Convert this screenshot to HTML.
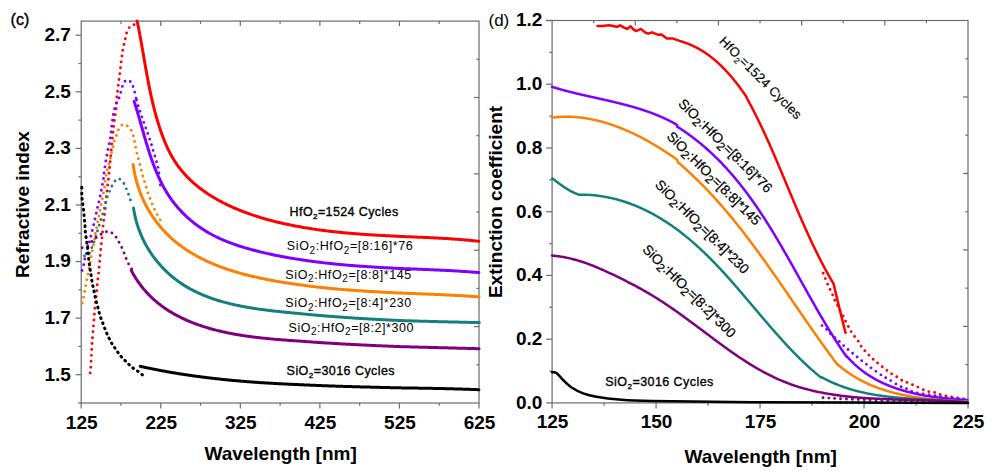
<!DOCTYPE html>
<html><head><meta charset="utf-8"><style>
html,body{margin:0;padding:0;background:#fff;width:1000px;height:473px;overflow:hidden}
svg{display:block}
</style></head><body>
<svg width="1000" height="473" viewBox="0 0 1000 473">
<rect width="1000" height="473" fill="#fff"/>
<rect x="81.2" y="21.1" width="397.8" height="381.9" fill="none" stroke="#6b6b6b" stroke-width="1.2"/>
<rect x="552.1" y="20.5" width="415.9" height="382.4" fill="none" stroke="#6b6b6b" stroke-width="1.2"/>
<line x1="81.20" y1="403.00" x2="81.20" y2="408.60" stroke="#6b6b6b" stroke-width="1.2"/>
<line x1="120.98" y1="403.00" x2="120.98" y2="405.80" stroke="#6b6b6b" stroke-width="1.2"/>
<line x1="120.98" y1="21.10" x2="120.98" y2="23.90" stroke="#6b6b6b" stroke-width="1.2"/>
<line x1="160.76" y1="403.00" x2="160.76" y2="408.60" stroke="#6b6b6b" stroke-width="1.2"/>
<line x1="160.76" y1="21.10" x2="160.76" y2="26.10" stroke="#6b6b6b" stroke-width="1.2"/>
<line x1="200.54" y1="403.00" x2="200.54" y2="405.80" stroke="#6b6b6b" stroke-width="1.2"/>
<line x1="200.54" y1="21.10" x2="200.54" y2="23.90" stroke="#6b6b6b" stroke-width="1.2"/>
<line x1="240.32" y1="403.00" x2="240.32" y2="408.60" stroke="#6b6b6b" stroke-width="1.2"/>
<line x1="240.32" y1="21.10" x2="240.32" y2="26.10" stroke="#6b6b6b" stroke-width="1.2"/>
<line x1="280.10" y1="403.00" x2="280.10" y2="405.80" stroke="#6b6b6b" stroke-width="1.2"/>
<line x1="280.10" y1="21.10" x2="280.10" y2="23.90" stroke="#6b6b6b" stroke-width="1.2"/>
<line x1="319.88" y1="403.00" x2="319.88" y2="408.60" stroke="#6b6b6b" stroke-width="1.2"/>
<line x1="319.88" y1="21.10" x2="319.88" y2="26.10" stroke="#6b6b6b" stroke-width="1.2"/>
<line x1="359.66" y1="403.00" x2="359.66" y2="405.80" stroke="#6b6b6b" stroke-width="1.2"/>
<line x1="359.66" y1="21.10" x2="359.66" y2="23.90" stroke="#6b6b6b" stroke-width="1.2"/>
<line x1="399.44" y1="403.00" x2="399.44" y2="408.60" stroke="#6b6b6b" stroke-width="1.2"/>
<line x1="399.44" y1="21.10" x2="399.44" y2="26.10" stroke="#6b6b6b" stroke-width="1.2"/>
<line x1="439.22" y1="403.00" x2="439.22" y2="405.80" stroke="#6b6b6b" stroke-width="1.2"/>
<line x1="439.22" y1="21.10" x2="439.22" y2="23.90" stroke="#6b6b6b" stroke-width="1.2"/>
<line x1="479.00" y1="403.00" x2="479.00" y2="408.60" stroke="#6b6b6b" stroke-width="1.2"/>
<line x1="78.20" y1="403.00" x2="81.20" y2="403.00" stroke="#6b6b6b" stroke-width="1.2"/>
<line x1="75.60" y1="374.71" x2="81.20" y2="374.71" stroke="#6b6b6b" stroke-width="1.2"/>
<line x1="78.40" y1="346.42" x2="81.20" y2="346.42" stroke="#6b6b6b" stroke-width="1.2"/>
<line x1="75.60" y1="318.13" x2="81.20" y2="318.13" stroke="#6b6b6b" stroke-width="1.2"/>
<line x1="78.40" y1="289.84" x2="81.20" y2="289.84" stroke="#6b6b6b" stroke-width="1.2"/>
<line x1="75.60" y1="261.56" x2="81.20" y2="261.56" stroke="#6b6b6b" stroke-width="1.2"/>
<line x1="78.40" y1="233.27" x2="81.20" y2="233.27" stroke="#6b6b6b" stroke-width="1.2"/>
<line x1="75.60" y1="204.98" x2="81.20" y2="204.98" stroke="#6b6b6b" stroke-width="1.2"/>
<line x1="78.40" y1="176.69" x2="81.20" y2="176.69" stroke="#6b6b6b" stroke-width="1.2"/>
<line x1="75.60" y1="148.40" x2="81.20" y2="148.40" stroke="#6b6b6b" stroke-width="1.2"/>
<line x1="78.40" y1="120.11" x2="81.20" y2="120.11" stroke="#6b6b6b" stroke-width="1.2"/>
<line x1="75.60" y1="91.82" x2="81.20" y2="91.82" stroke="#6b6b6b" stroke-width="1.2"/>
<line x1="78.40" y1="63.53" x2="81.20" y2="63.53" stroke="#6b6b6b" stroke-width="1.2"/>
<line x1="75.60" y1="35.24" x2="81.20" y2="35.24" stroke="#6b6b6b" stroke-width="1.2"/>
<line x1="552.10" y1="402.90" x2="552.10" y2="408.50" stroke="#6b6b6b" stroke-width="1.2"/>
<line x1="604.09" y1="402.90" x2="604.09" y2="405.70" stroke="#6b6b6b" stroke-width="1.2"/>
<line x1="656.08" y1="402.90" x2="656.08" y2="408.50" stroke="#6b6b6b" stroke-width="1.2"/>
<line x1="708.06" y1="402.90" x2="708.06" y2="405.70" stroke="#6b6b6b" stroke-width="1.2"/>
<line x1="760.05" y1="402.90" x2="760.05" y2="408.50" stroke="#6b6b6b" stroke-width="1.2"/>
<line x1="812.04" y1="402.90" x2="812.04" y2="405.70" stroke="#6b6b6b" stroke-width="1.2"/>
<line x1="864.03" y1="402.90" x2="864.03" y2="408.50" stroke="#6b6b6b" stroke-width="1.2"/>
<line x1="916.01" y1="402.90" x2="916.01" y2="405.70" stroke="#6b6b6b" stroke-width="1.2"/>
<line x1="968.00" y1="402.90" x2="968.00" y2="408.50" stroke="#6b6b6b" stroke-width="1.2"/>
<line x1="593.69" y1="20.50" x2="593.69" y2="23.30" stroke="#6b6b6b" stroke-width="1.2"/>
<line x1="635.28" y1="20.50" x2="635.28" y2="25.50" stroke="#6b6b6b" stroke-width="1.2"/>
<line x1="676.87" y1="20.50" x2="676.87" y2="23.30" stroke="#6b6b6b" stroke-width="1.2"/>
<line x1="718.46" y1="20.50" x2="718.46" y2="25.50" stroke="#6b6b6b" stroke-width="1.2"/>
<line x1="760.05" y1="20.50" x2="760.05" y2="23.30" stroke="#6b6b6b" stroke-width="1.2"/>
<line x1="801.64" y1="20.50" x2="801.64" y2="25.50" stroke="#6b6b6b" stroke-width="1.2"/>
<line x1="843.23" y1="20.50" x2="843.23" y2="23.30" stroke="#6b6b6b" stroke-width="1.2"/>
<line x1="884.82" y1="20.50" x2="884.82" y2="25.50" stroke="#6b6b6b" stroke-width="1.2"/>
<line x1="926.41" y1="20.50" x2="926.41" y2="23.30" stroke="#6b6b6b" stroke-width="1.2"/>
<line x1="546.10" y1="20.50" x2="552.10" y2="20.50" stroke="#6b6b6b" stroke-width="1.2"/>
<line x1="546.10" y1="402.90" x2="552.10" y2="402.90" stroke="#6b6b6b" stroke-width="1.2"/>
<line x1="549.30" y1="371.03" x2="552.10" y2="371.03" stroke="#6b6b6b" stroke-width="1.2"/>
<line x1="546.10" y1="339.17" x2="552.10" y2="339.17" stroke="#6b6b6b" stroke-width="1.2"/>
<line x1="549.30" y1="307.30" x2="552.10" y2="307.30" stroke="#6b6b6b" stroke-width="1.2"/>
<line x1="546.10" y1="275.43" x2="552.10" y2="275.43" stroke="#6b6b6b" stroke-width="1.2"/>
<line x1="549.30" y1="243.57" x2="552.10" y2="243.57" stroke="#6b6b6b" stroke-width="1.2"/>
<line x1="546.10" y1="211.70" x2="552.10" y2="211.70" stroke="#6b6b6b" stroke-width="1.2"/>
<line x1="549.30" y1="179.83" x2="552.10" y2="179.83" stroke="#6b6b6b" stroke-width="1.2"/>
<line x1="546.10" y1="147.97" x2="552.10" y2="147.97" stroke="#6b6b6b" stroke-width="1.2"/>
<line x1="549.30" y1="116.10" x2="552.10" y2="116.10" stroke="#6b6b6b" stroke-width="1.2"/>
<line x1="546.10" y1="84.23" x2="552.10" y2="84.23" stroke="#6b6b6b" stroke-width="1.2"/>
<line x1="549.30" y1="52.37" x2="552.10" y2="52.37" stroke="#6b6b6b" stroke-width="1.2"/>
<line x1="546.10" y1="20.50" x2="552.10" y2="20.50" stroke="#6b6b6b" stroke-width="1.2"/>
<line x1="476.40" y1="59.29" x2="479.00" y2="59.29" stroke="#6b6b6b" stroke-width="1.2"/>
<line x1="474.00" y1="97.48" x2="479.00" y2="97.48" stroke="#6b6b6b" stroke-width="1.2"/>
<line x1="476.40" y1="135.67" x2="479.00" y2="135.67" stroke="#6b6b6b" stroke-width="1.2"/>
<line x1="474.00" y1="173.86" x2="479.00" y2="173.86" stroke="#6b6b6b" stroke-width="1.2"/>
<line x1="476.40" y1="212.05" x2="479.00" y2="212.05" stroke="#6b6b6b" stroke-width="1.2"/>
<line x1="474.00" y1="250.24" x2="479.00" y2="250.24" stroke="#6b6b6b" stroke-width="1.2"/>
<line x1="476.40" y1="288.43" x2="479.00" y2="288.43" stroke="#6b6b6b" stroke-width="1.2"/>
<line x1="474.00" y1="326.62" x2="479.00" y2="326.62" stroke="#6b6b6b" stroke-width="1.2"/>
<line x1="476.40" y1="364.81" x2="479.00" y2="364.81" stroke="#6b6b6b" stroke-width="1.2"/>
<line x1="965.40" y1="58.74" x2="968.00" y2="58.74" stroke="#6b6b6b" stroke-width="1.2"/>
<line x1="963.00" y1="96.98" x2="968.00" y2="96.98" stroke="#6b6b6b" stroke-width="1.2"/>
<line x1="965.40" y1="135.22" x2="968.00" y2="135.22" stroke="#6b6b6b" stroke-width="1.2"/>
<line x1="963.00" y1="173.46" x2="968.00" y2="173.46" stroke="#6b6b6b" stroke-width="1.2"/>
<line x1="965.40" y1="211.70" x2="968.00" y2="211.70" stroke="#6b6b6b" stroke-width="1.2"/>
<line x1="963.00" y1="249.94" x2="968.00" y2="249.94" stroke="#6b6b6b" stroke-width="1.2"/>
<line x1="965.40" y1="288.18" x2="968.00" y2="288.18" stroke="#6b6b6b" stroke-width="1.2"/>
<line x1="963.00" y1="326.42" x2="968.00" y2="326.42" stroke="#6b6b6b" stroke-width="1.2"/>
<line x1="965.40" y1="364.66" x2="968.00" y2="364.66" stroke="#6b6b6b" stroke-width="1.2"/>
<text x="81.70" y="428.60" font-family="Liberation Sans, sans-serif" font-size="19" font-weight="bold" text-anchor="middle" fill="#000" >125</text>
<text x="161.26" y="428.60" font-family="Liberation Sans, sans-serif" font-size="19" font-weight="bold" text-anchor="middle" fill="#000" >225</text>
<text x="240.82" y="428.60" font-family="Liberation Sans, sans-serif" font-size="19" font-weight="bold" text-anchor="middle" fill="#000" >325</text>
<text x="320.38" y="428.60" font-family="Liberation Sans, sans-serif" font-size="19" font-weight="bold" text-anchor="middle" fill="#000" >425</text>
<text x="399.94" y="428.60" font-family="Liberation Sans, sans-serif" font-size="19" font-weight="bold" text-anchor="middle" fill="#000" >525</text>
<text x="479.50" y="428.60" font-family="Liberation Sans, sans-serif" font-size="19" font-weight="bold" text-anchor="middle" fill="#000" >625</text>
<text x="70.90" y="380.51" font-family="Liberation Sans, sans-serif" font-size="19" font-weight="bold" text-anchor="end" fill="#000" >1.5</text>
<text x="70.90" y="323.93" font-family="Liberation Sans, sans-serif" font-size="19" font-weight="bold" text-anchor="end" fill="#000" >1.7</text>
<text x="70.90" y="267.36" font-family="Liberation Sans, sans-serif" font-size="19" font-weight="bold" text-anchor="end" fill="#000" >1.9</text>
<text x="70.90" y="210.78" font-family="Liberation Sans, sans-serif" font-size="19" font-weight="bold" text-anchor="end" fill="#000" >2.1</text>
<text x="70.90" y="154.20" font-family="Liberation Sans, sans-serif" font-size="19" font-weight="bold" text-anchor="end" fill="#000" >2.3</text>
<text x="70.90" y="97.62" font-family="Liberation Sans, sans-serif" font-size="19" font-weight="bold" text-anchor="end" fill="#000" >2.5</text>
<text x="70.90" y="41.04" font-family="Liberation Sans, sans-serif" font-size="19" font-weight="bold" text-anchor="end" fill="#000" >2.7</text>
<text x="552.60" y="428.30" font-family="Liberation Sans, sans-serif" font-size="19" font-weight="bold" text-anchor="middle" fill="#000" >125</text>
<text x="656.58" y="428.30" font-family="Liberation Sans, sans-serif" font-size="19" font-weight="bold" text-anchor="middle" fill="#000" >150</text>
<text x="760.55" y="428.30" font-family="Liberation Sans, sans-serif" font-size="19" font-weight="bold" text-anchor="middle" fill="#000" >175</text>
<text x="864.53" y="428.30" font-family="Liberation Sans, sans-serif" font-size="19" font-weight="bold" text-anchor="middle" fill="#000" >200</text>
<text x="968.50" y="428.30" font-family="Liberation Sans, sans-serif" font-size="19" font-weight="bold" text-anchor="middle" fill="#000" >225</text>
<text x="542.30" y="408.70" font-family="Liberation Sans, sans-serif" font-size="19" font-weight="bold" text-anchor="end" fill="#000" >0.0</text>
<text x="542.30" y="344.97" font-family="Liberation Sans, sans-serif" font-size="19" font-weight="bold" text-anchor="end" fill="#000" >0.2</text>
<text x="542.30" y="281.23" font-family="Liberation Sans, sans-serif" font-size="19" font-weight="bold" text-anchor="end" fill="#000" >0.4</text>
<text x="542.30" y="217.50" font-family="Liberation Sans, sans-serif" font-size="19" font-weight="bold" text-anchor="end" fill="#000" >0.6</text>
<text x="542.30" y="153.77" font-family="Liberation Sans, sans-serif" font-size="19" font-weight="bold" text-anchor="end" fill="#000" >0.8</text>
<text x="542.30" y="90.03" font-family="Liberation Sans, sans-serif" font-size="19" font-weight="bold" text-anchor="end" fill="#000" >1.0</text>
<text x="542.30" y="26.30" font-family="Liberation Sans, sans-serif" font-size="19" font-weight="bold" text-anchor="end" fill="#000" >1.2</text>
<text x="280.60" y="459.70" font-family="Liberation Sans, sans-serif" font-size="19" font-weight="bold" text-anchor="middle" fill="#000" >Wavelength [nm]</text>
<text x="760.70" y="462.70" font-family="Liberation Sans, sans-serif" font-size="19" font-weight="bold" text-anchor="middle" fill="#000" >Wavelength [nm]</text>
<text transform="translate(29.1,204.5) rotate(-90)" font-family="Liberation Sans, sans-serif" font-size="19" font-weight="bold" text-anchor="middle">Refractive index</text>
<text transform="translate(501.8,202) rotate(-90)" font-family="Liberation Sans, sans-serif" font-size="19" font-weight="bold" text-anchor="middle">Extinction coefficient</text>
<text x="10.60" y="25.20" font-family="Liberation Sans, sans-serif" font-size="16" font-weight="normal" text-anchor="start" fill="#000" stroke="#000" stroke-width="0.4">(c)</text>
<text x="488.50" y="25.50" font-family="Liberation Sans, sans-serif" font-size="17" font-weight="normal" text-anchor="start" fill="#000" >(d)</text>

<path d="M90.10,373.00 C90.22,371.98 90.58,369.87 90.80,366.90 C91.02,363.93 91.20,359.10 91.40,355.20 C91.60,351.30 91.82,346.45 92.00,343.50 C92.18,340.55 92.25,340.47 92.50,337.50 C92.75,334.53 93.18,329.62 93.50,325.70 C93.82,321.78 94.08,317.90 94.40,314.00 C94.72,310.10 95.10,305.22 95.40,302.30 C95.70,299.38 95.90,299.43 96.20,296.50 C96.50,293.57 96.80,288.63 97.20,284.70 C97.60,280.77 98.18,276.83 98.60,272.90 C99.02,268.97 99.35,264.92 99.70,261.10 C100.05,257.28 100.42,252.87 100.70,250.00 C100.98,247.13 101.10,246.88 101.40,243.90 C101.70,240.92 102.12,236.03 102.50,232.10 C102.88,228.17 103.35,223.32 103.70,220.30 C104.05,217.28 104.23,217.03 104.60,214.00 C104.97,210.97 105.48,206.05 105.90,202.10 C106.32,198.15 106.67,194.23 107.10,190.30 C107.53,186.37 108.08,182.32 108.50,178.50 C108.92,174.68 109.23,171.17 109.60,167.40 C109.97,163.63 110.33,159.78 110.70,155.90 C111.07,152.02 111.42,148.05 111.80,144.10 C112.18,140.15 112.57,136.15 113.00,132.20 C113.43,128.25 113.88,124.40 114.40,120.40 C114.92,116.40 115.68,112.10 116.10,108.20 C116.52,104.30 116.53,100.85 116.90,97.00 C117.27,93.15 117.82,89.00 118.30,85.10 C118.78,81.20 119.32,77.52 119.80,73.60 C120.28,69.68 120.70,65.52 121.20,61.60 C121.70,57.68 122.33,53.00 122.80,50.10 C123.27,47.20 123.57,46.17 124.00,44.20 C124.43,42.23 124.95,40.22 125.40,38.30 C125.85,36.38 126.00,34.57 126.70,32.70 C127.40,30.83 128.42,28.43 129.60,27.10 C130.78,25.77 132.53,24.63 133.80,24.70 C135.07,24.77 136.63,27.03 137.20,27.50" fill="none" stroke="#ff0000" stroke-width="2.9" stroke-linecap="round" stroke-dasharray="0 5.9"/>
<path d="M82.10,270.50 C82.37,269.55 83.23,266.80 83.70,264.80 C84.17,262.80 84.43,260.50 84.90,258.50 C85.37,256.50 85.75,255.58 86.50,252.80 C87.25,250.02 88.43,245.53 89.40,241.80 C90.37,238.07 91.35,234.25 92.30,230.40 C93.25,226.55 94.22,222.58 95.10,218.70 C95.98,214.82 96.95,209.98 97.60,207.10 C98.25,204.22 98.37,204.27 99.00,201.40 C99.63,198.53 100.63,193.80 101.40,189.90 C102.17,186.00 103.13,180.98 103.60,178.00 C104.07,175.02 103.82,174.88 104.20,172.00 C104.58,169.12 105.25,164.52 105.90,160.70 C106.55,156.88 107.33,153.00 108.10,149.10 C108.87,145.20 109.88,141.23 110.50,137.30 C111.12,133.37 111.30,129.38 111.80,125.50 C112.30,121.62 112.80,117.58 113.50,114.00 C114.20,110.42 115.00,106.83 116.00,104.00 C117.00,101.17 118.37,100.15 119.50,97.00 C120.63,93.85 121.62,87.92 122.80,85.10 C123.98,82.28 125.18,80.52 126.60,80.10 C128.02,79.68 130.18,81.40 131.30,82.60 C132.42,83.80 132.68,85.55 133.30,87.30 C133.92,89.05 134.47,90.98 135.00,93.10 C135.53,95.22 136.25,98.85 136.50,100.00" fill="none" stroke="#7f00ff" stroke-width="2.9" stroke-linecap="round" stroke-dasharray="0 5.9"/>
<path d="M136.50,100.00 C137.00,101.67 138.42,106.67 139.50,110.00 C140.58,113.33 141.83,116.67 143.00,120.00 C144.17,123.33 145.33,126.67 146.50,130.00 C147.67,133.33 148.92,136.67 150.00,140.00 C151.08,143.33 152.00,146.67 153.00,150.00 C154.00,153.33 155.08,156.67 156.00,160.00 C156.92,163.33 157.68,165.00 158.50,170.00 C159.32,175.00 160.50,186.67 160.90,190.00" fill="none" stroke="#7f00ff" stroke-width="2.9" stroke-linecap="round" stroke-dasharray="0 5.9"/>
<path d="M82.20,303.00 C82.42,302.07 83.08,299.33 83.50,297.40 C83.92,295.47 84.33,293.35 84.70,291.40 C85.07,289.45 85.32,287.78 85.70,285.70 C86.08,283.62 86.62,280.85 87.00,278.90 C87.38,276.95 87.65,275.78 88.00,274.00 C88.35,272.22 88.73,270.12 89.10,268.20 C89.47,266.28 89.85,264.43 90.20,262.50 C90.55,260.57 90.85,258.57 91.20,256.60 C91.55,254.63 91.95,252.63 92.30,250.70 C92.65,248.77 92.92,246.95 93.30,245.00 C93.68,243.05 94.25,240.95 94.60,239.00 C94.95,237.05 95.05,235.23 95.40,233.30 C95.75,231.37 96.30,229.33 96.70,227.40 C97.10,225.47 97.43,223.63 97.80,221.70 C98.17,219.77 98.53,217.73 98.90,215.80 C99.27,213.87 99.62,212.03 100.00,210.10 C100.38,208.17 100.78,206.20 101.20,204.20 C101.62,202.20 102.12,200.02 102.50,198.10 C102.88,196.18 103.15,194.60 103.50,192.70 C103.85,190.80 104.32,188.68 104.60,186.70 C104.88,184.72 104.90,182.97 105.20,180.80 C105.50,178.63 106.00,175.73 106.40,173.70 C106.80,171.67 107.12,170.43 107.60,168.60 C108.08,166.77 108.82,164.53 109.30,162.70 C109.78,160.87 110.08,159.43 110.50,157.60 C110.92,155.77 111.35,153.67 111.80,151.70 C112.25,149.73 112.77,147.63 113.20,145.80 C113.63,143.97 113.83,142.48 114.40,140.70 C114.97,138.92 115.83,137.08 116.60,135.10 C117.37,133.12 117.97,130.55 119.00,128.80 C120.03,127.05 121.32,125.02 122.80,124.60 C124.28,124.18 126.43,125.25 127.90,126.30 C129.37,127.35 130.67,129.20 131.60,130.90 C132.53,132.60 132.98,134.58 133.50,136.50 C134.02,138.42 134.30,140.43 134.70,142.40 C135.10,144.37 135.48,146.33 135.90,148.30 C136.32,150.27 136.75,152.28 137.20,154.20 C137.65,156.12 138.12,157.90 138.60,159.80 C139.08,161.70 139.62,163.72 140.10,165.60 C140.58,167.48 141.00,169.18 141.50,171.10 C142.00,173.02 142.55,175.17 143.10,177.10 C143.65,179.03 144.23,180.92 144.80,182.70 C145.37,184.48 145.93,185.97 146.50,187.80 C147.07,189.63 147.57,191.82 148.20,193.70 C148.83,195.58 149.58,197.27 150.30,199.10 C151.02,200.93 151.72,202.78 152.50,204.70 C153.28,206.62 154.08,208.72 155.00,210.60 C155.92,212.48 157.02,214.30 158.00,216.00 C158.98,217.70 160.42,220.00 160.90,220.80" fill="none" stroke="#ff7f00" stroke-width="2.9" stroke-linecap="round" stroke-dasharray="0 5.9"/>
<path d="M84.50,256.00 C85.27,255.60 87.98,254.78 89.10,253.60 C90.22,252.42 90.45,250.62 91.20,248.90 C91.95,247.18 92.90,245.15 93.60,243.30 C94.30,241.45 94.83,239.60 95.40,237.80 C95.97,236.00 96.43,234.38 97.00,232.50 C97.57,230.62 98.22,228.43 98.80,226.50 C99.38,224.57 99.95,222.72 100.50,220.90 C101.05,219.08 101.53,217.40 102.10,215.60 C102.67,213.80 103.40,211.92 103.90,210.10 C104.40,208.28 104.63,206.60 105.10,204.70 C105.57,202.80 106.07,200.65 106.70,198.70 C107.33,196.75 108.18,194.82 108.90,193.00 C109.62,191.18 110.17,189.52 111.00,187.80 C111.83,186.08 112.77,184.25 113.90,182.70 C115.03,181.15 116.32,178.65 117.80,178.50 C119.28,178.35 121.53,180.40 122.80,181.80 C124.07,183.20 124.60,185.20 125.40,186.90 C126.20,188.60 126.90,190.25 127.60,192.00 C128.30,193.75 128.95,195.45 129.60,197.40 C130.25,199.35 131.18,202.65 131.50,203.70" fill="none" stroke="#137f7f" stroke-width="2.9" stroke-linecap="round" stroke-dasharray="0 5.9"/>
<path d="M82.20,247.80 C83.08,247.50 85.95,247.00 87.50,246.00 C89.05,245.00 90.18,243.08 91.50,241.80 C92.82,240.52 94.03,239.42 95.40,238.30 C96.77,237.18 98.28,236.03 99.70,235.10 C101.12,234.17 102.32,233.28 103.90,232.70 C105.48,232.12 107.43,231.20 109.20,231.60 C110.97,232.00 113.10,233.72 114.50,235.10 C115.90,236.48 116.63,238.32 117.60,239.90 C118.57,241.48 119.42,242.93 120.30,244.60 C121.18,246.27 122.12,248.08 122.90,249.90 C123.68,251.72 124.28,253.63 125.00,255.50 C125.72,257.37 126.40,259.32 127.20,261.10 C128.00,262.88 128.88,264.63 129.80,266.20 C130.72,267.77 132.22,269.78 132.70,270.50" fill="none" stroke="#7f007f" stroke-width="2.9" stroke-linecap="round" stroke-dasharray="0 5.9"/>
<path d="M142.40,374.90 C141.67,374.32 139.47,372.47 138.00,371.40 C136.53,370.33 135.07,369.62 133.60,368.50 C132.13,367.38 130.63,366.03 129.20,364.70 C127.77,363.37 126.40,361.92 125.00,360.50 C123.60,359.08 122.07,357.67 120.80,356.20 C119.53,354.73 118.45,353.17 117.40,351.70 C116.35,350.23 115.47,348.85 114.50,347.40 C113.53,345.95 112.45,344.42 111.60,343.00 C110.75,341.58 110.15,340.40 109.40,338.90 C108.65,337.40 107.88,335.77 107.10,334.00 C106.32,332.23 105.45,330.18 104.70,328.30 C103.95,326.42 103.30,324.57 102.60,322.70 C101.90,320.83 101.12,318.95 100.50,317.10 C99.88,315.25 99.38,313.40 98.90,311.60 C98.42,309.80 98.08,308.15 97.60,306.30 C97.12,304.45 96.48,302.40 96.00,300.50 C95.52,298.60 95.12,296.88 94.70,294.90 C94.28,292.92 93.90,290.48 93.50,288.60 C93.10,286.72 92.65,285.50 92.30,283.60 C91.95,281.70 91.70,279.15 91.40,277.20 C91.10,275.25 90.80,273.78 90.50,271.90 C90.20,270.02 89.88,267.88 89.60,265.90 C89.32,263.92 89.05,262.08 88.80,260.00 C88.55,257.92 88.32,255.43 88.10,253.40 C87.88,251.37 87.73,249.70 87.50,247.80 C87.27,245.90 86.97,243.93 86.70,242.00 C86.43,240.07 86.15,238.13 85.90,236.20 C85.65,234.27 85.37,232.33 85.20,230.40 C85.03,228.47 85.05,226.58 84.90,224.60 C84.75,222.62 84.48,220.50 84.30,218.50 C84.12,216.50 84.00,214.55 83.80,212.60 C83.60,210.65 83.33,208.75 83.10,206.80 C82.87,204.85 82.62,202.87 82.40,200.90 C82.18,198.93 81.90,197.48 81.80,195.00 C81.70,192.52 81.80,187.50 81.80,186.00" fill="none" stroke="#000000" stroke-width="3.0" stroke-linecap="round" stroke-dasharray="0.8 4.7"/>
<path d="M137.15,21.07 L137.39,22.24 L137.63,23.40 L137.86,24.57 L138.10,25.73 L138.33,26.90 L138.56,28.06 L138.79,29.22 L139.01,30.39 L139.24,31.55 L139.46,32.71 L139.68,33.88 L139.89,35.04 L140.11,36.20 L140.32,37.36 L140.53,38.52 L140.75,39.69 L140.95,40.85 L141.16,42.01 L141.37,43.17 L141.58,44.33 L141.78,45.49 L141.98,46.65 L142.19,47.81 L142.39,48.97 L142.59,50.13 L142.79,51.29 L142.99,52.44 L143.19,53.60 L143.39,54.76 L143.59,55.92 L143.79,57.08 L143.99,58.23 L144.19,59.39 L144.40,60.55 L144.60,61.70 L144.80,62.86 L145.00,64.02 L145.20,65.17 L145.40,66.33 L145.61,67.48 L145.81,68.64 L146.01,69.79 L146.22,70.95 L146.43,72.10 L146.64,73.25 L146.85,74.41 L147.06,75.56 L147.27,76.71 L147.48,77.86 L147.70,79.02 L147.92,80.17 L148.14,81.32 L148.36,82.47 L148.58,83.62 L148.80,84.77 L149.03,85.92 L149.26,87.07 L149.49,88.22 L149.73,89.37 L149.97,90.52 L150.21,91.67 L150.45,92.82 L150.69,93.96 L150.94,95.11 L151.19,96.26 L151.45,97.41 L151.71,98.55 L151.97,99.70 L152.23,100.85 L152.50,101.99 L152.77,103.14 L153.04,104.28 L153.32,105.43 L153.61,106.57 L153.89,107.72 L154.18,108.86 L154.48,110.00 L154.78,111.15 L155.08,112.29 L155.39,113.43 L155.70,114.57 L156.02,115.71 L156.34,116.86 L156.66,118.00 L157.00,119.14 L157.33,120.28 L157.67,121.42 L158.02,122.56 L158.37,123.69 L158.73,124.83 L159.09,125.97 L159.46,127.11 L159.83,128.25 L160.21,129.38 L160.59,130.52 L160.98,131.65 L161.38,132.79 L161.78,133.92 L162.19,135.05 L162.61,136.17 L163.03,137.30 L163.47,138.42 L163.90,139.54 L164.35,140.65 L164.80,141.76 L165.26,142.86 L165.73,143.97 L166.21,145.06 L166.70,146.15 L167.19,147.24 L167.69,148.32 L168.20,149.40 L168.73,150.47 L169.25,151.53 L169.79,152.58 L170.34,153.63 L170.90,154.67 L171.47,155.71 L172.05,156.73 L172.63,157.75 L173.23,158.76 L173.84,159.76 L174.46,160.75 L175.09,161.74 L175.73,162.71 L176.38,163.67 L177.05,164.63 L177.72,165.57 L178.40,166.51 L179.10,167.44 L179.80,168.35 L180.52,169.26 L181.24,170.16 L181.97,171.05 L182.72,171.93 L183.47,172.81 L184.23,173.67 L185.00,174.53 L185.78,175.38 L186.57,176.21 L187.37,177.04 L188.18,177.86 L189.00,178.68 L189.82,179.48 L190.66,180.28 L191.50,181.07 L192.35,181.85 L193.21,182.62 L194.07,183.38 L194.95,184.14 L195.83,184.88 L196.72,185.62 L197.62,186.35 L198.52,187.08 L199.43,187.79 L200.35,188.50 L201.28,189.20 L202.21,189.89 L203.15,190.57 L204.10,191.25 L205.05,191.92 L206.01,192.58 L206.98,193.24 L207.95,193.88 L208.93,194.52 L209.91,195.16 L210.90,195.78 L211.90,196.40 L212.90,197.01 L213.91,197.61 L214.92,198.21 L215.94,198.80 L216.96,199.38 L217.99,199.96 L219.02,200.53 L220.06,201.09 L221.10,201.65 L222.15,202.20 L223.20,202.74 L224.26,203.27 L225.32,203.80 L226.38,204.33 L227.45,204.84 L228.52,205.35 L229.60,205.86 L230.68,206.35 L231.76,206.85 L232.85,207.33 L233.94,207.81 L235.03,208.28 L236.12,208.75 L237.22,209.21 L238.32,209.67 L239.43,210.11 L240.53,210.56 L241.64,211.00 L242.76,211.43 L243.87,211.85 L244.98,212.27 L246.10,212.69 L247.22,213.10 L248.34,213.50 L249.47,213.90 L250.59,214.30 L251.72,214.69 L252.84,215.07 L253.97,215.45 L255.10,215.82 L256.23,216.19 L257.36,216.55 L258.49,216.91 L259.63,217.26 L260.76,217.61 L261.90,217.95 L263.03,218.29 L264.17,218.62 L265.31,218.95 L266.45,219.27 L267.58,219.59 L268.73,219.91 L269.87,220.22 L271.01,220.52 L272.15,220.82 L273.30,221.12 L274.44,221.41 L275.59,221.70 L276.73,221.98 L277.88,222.26 L279.03,222.53 L280.18,222.80 L281.33,223.07 L282.48,223.33 L283.63,223.59 L284.78,223.84 L285.93,224.09 L287.08,224.34 L288.24,224.58 L289.39,224.82 L290.55,225.05 L291.71,225.28 L292.86,225.51 L294.02,225.73 L295.18,225.95 L296.34,226.16 L297.50,226.37 L298.66,226.58 L299.82,226.78 L300.98,227.00 L302.14,227.21 L303.31,227.41 L304.47,227.62 L305.63,227.81 L306.80,228.01 L307.96,228.20 L309.13,228.39 L310.30,228.58 L311.46,228.76 L312.63,228.94 L313.80,229.12 L314.97,229.30 L316.14,229.47 L317.31,229.63 L318.48,229.80 L319.65,229.96 L320.82,230.12 L321.99,230.28 L323.16,230.43 L324.34,230.58 L325.51,230.73 L326.68,230.88 L327.86,231.02 L329.03,231.16 L330.21,231.30 L331.38,231.44 L332.56,231.57 L333.74,231.70 L334.91,231.83 L336.09,231.95 L337.27,232.08 L338.44,232.20 L339.62,232.32 L340.80,232.44 L341.98,232.55 L343.16,232.67 L344.34,232.78 L345.52,232.89 L346.70,232.99 L347.88,233.10 L349.06,233.20 L350.24,233.30 L351.42,233.40 L352.60,233.50 L353.79,233.60 L354.97,233.69 L356.15,233.78 L357.33,233.87 L358.52,233.96 L359.70,234.05 L360.88,234.14 L362.07,234.22 L363.25,234.31 L364.43,234.39 L365.62,234.47 L366.80,234.55 L367.99,234.63 L369.17,234.71 L370.35,234.78 L371.54,234.86 L372.72,234.93 L373.91,235.00 L375.09,235.08 L376.28,235.15 L377.46,235.22 L378.65,235.29 L379.83,235.35 L381.02,235.42 L382.21,235.49 L383.39,235.55 L384.58,235.62 L385.76,235.68 L386.95,235.75 L388.13,235.81 L389.32,235.87 L390.50,235.94 L391.69,236.00 L392.88,236.06 L394.06,236.12 L395.25,236.18 L396.43,236.24 L397.62,236.30 L398.80,236.36 L399.99,236.42 L401.17,236.47 L402.36,236.52 L403.54,236.56 L404.73,236.61 L405.91,236.66 L407.10,236.70 L408.28,236.75 L409.47,236.80 L410.65,236.84 L411.83,236.89 L413.02,236.94 L414.20,236.99 L415.39,237.03 L416.57,237.08 L417.75,237.13 L418.93,237.18 L420.12,237.23 L421.30,237.28 L422.48,237.33 L423.66,237.39 L424.84,237.44 L426.03,237.49 L427.21,237.54 L428.39,237.60 L429.57,237.66 L430.75,237.71 L431.93,237.77 L433.11,237.83 L434.29,237.89 L435.47,237.95 L436.64,238.01 L437.82,238.07 L439.00,238.13 L440.18,238.20 L441.36,238.27 L442.53,238.33 L443.71,238.40 L444.88,238.47 L446.06,238.54 L447.24,238.62 L448.41,238.69 L449.58,238.77 L450.76,238.84 L451.93,238.92 L453.10,239.00 L454.28,239.08 L455.45,239.17 L456.62,239.25 L457.79,239.34 L458.96,239.43 L460.13,239.52 L461.30,239.62 L462.47,239.71 L463.64,239.81 L464.80,239.91 L465.97,240.01 L467.14,240.11 L468.30,240.22 L469.47,240.32 L470.64,240.43 L471.80,240.55 L472.96,240.66 L474.13,240.78 L475.29,240.90 L476.45,241.02 L477.61,241.14 L478.77,241.27" fill="none" stroke="#ff0000" stroke-width="3.0" stroke-linecap="round" stroke-linejoin="round"/>
<path d="M134.15,101.43 L134.46,102.40 L134.78,103.37 L135.09,104.35 L135.40,105.33 L135.71,106.31 L136.01,107.30 L136.32,108.29 L136.62,109.28 L136.92,110.28 L137.22,111.28 L137.52,112.29 L137.82,113.30 L138.12,114.31 L138.41,115.32 L138.71,116.34 L139.00,117.36 L139.30,118.38 L139.59,119.41 L139.88,120.44 L140.18,121.47 L140.47,122.50 L140.76,123.53 L141.06,124.57 L141.35,125.61 L141.64,126.65 L141.94,127.69 L142.23,128.73 L142.53,129.78 L142.82,130.82 L143.12,131.87 L143.42,132.92 L143.72,133.97 L144.02,135.02 L144.32,136.07 L144.63,137.12 L144.93,138.17 L145.24,139.23 L145.55,140.28 L145.86,141.33 L146.17,142.38 L146.48,143.44 L146.80,144.49 L147.12,145.54 L147.44,146.59 L147.76,147.65 L148.09,148.70 L148.42,149.75 L148.75,150.80 L149.09,151.84 L149.43,152.89 L149.77,153.94 L150.12,154.98 L150.46,156.02 L150.82,157.07 L151.17,158.11 L151.53,159.15 L151.90,160.18 L152.26,161.22 L152.64,162.25 L153.01,163.28 L153.39,164.31 L153.78,165.33 L154.17,166.36 L154.56,167.38 L154.96,168.39 L155.37,169.41 L155.77,170.42 L156.19,171.43 L156.61,172.43 L157.03,173.44 L157.46,174.43 L157.90,175.43 L158.34,176.42 L158.79,177.41 L159.24,178.39 L159.70,179.37 L160.17,180.35 L160.64,181.32 L161.12,182.29 L161.60,183.25 L162.09,184.21 L162.59,185.16 L163.09,186.11 L163.61,187.05 L164.12,187.99 L164.65,188.92 L165.18,189.85 L165.72,190.77 L166.27,191.69 L166.83,192.60 L167.39,193.51 L167.96,194.41 L168.54,195.30 L169.13,196.19 L169.72,197.07 L170.32,197.95 L170.94,198.82 L171.55,199.68 L172.18,200.54 L172.81,201.39 L173.46,202.24 L174.11,203.07 L174.76,203.91 L175.43,204.73 L176.10,205.55 L176.78,206.36 L177.46,207.17 L178.16,207.97 L178.86,208.76 L179.57,209.55 L180.28,210.33 L181.01,211.10 L181.73,211.87 L182.47,212.63 L183.21,213.38 L183.96,214.13 L184.72,214.87 L185.48,215.60 L186.25,216.33 L187.03,217.05 L187.82,217.76 L188.61,218.47 L189.40,219.17 L190.20,219.86 L191.01,220.54 L191.83,221.22 L192.65,221.89 L193.48,222.55 L194.31,223.21 L195.15,223.86 L196.00,224.50 L196.85,225.13 L197.71,225.76 L198.57,226.38 L199.44,226.99 L200.32,227.60 L201.20,228.19 L202.08,228.78 L202.98,229.37 L203.87,229.94 L204.78,230.51 L205.68,231.07 L206.60,231.62 L207.52,232.16 L208.44,232.70 L209.37,233.23 L210.30,233.75 L211.24,234.26 L212.19,234.77 L213.14,235.27 L214.09,235.76 L215.05,236.24 L216.01,236.72 L216.98,237.19 L217.95,237.65 L218.93,238.11 L219.91,238.56 L220.89,239.00 L221.88,239.44 L222.87,239.87 L223.87,240.29 L224.86,240.71 L225.87,241.12 L226.87,241.53 L227.88,241.93 L228.89,242.32 L229.91,242.71 L230.93,243.09 L231.95,243.46 L232.97,243.83 L234.00,244.20 L235.03,244.56 L236.06,244.91 L237.09,245.26 L238.13,245.61 L239.17,245.95 L240.21,246.28 L241.25,246.61 L242.29,246.94 L243.34,247.26 L244.39,247.58 L245.43,247.89 L246.48,248.20 L247.54,248.50 L248.59,248.80 L249.64,249.10 L250.70,249.39 L251.76,249.68 L252.81,249.96 L253.87,250.24 L254.93,250.52 L255.99,250.79 L257.05,251.07 L258.11,251.33 L259.17,251.60 L260.23,251.86 L261.29,252.12 L262.35,252.37 L263.41,252.62 L264.48,252.87 L265.54,253.12 L266.60,253.36 L267.66,253.60 L268.73,253.84 L269.79,254.07 L270.86,254.30 L271.92,254.53 L272.99,254.76 L274.05,254.98 L275.12,255.20 L276.18,255.41 L277.25,255.63 L278.31,255.84 L279.38,256.05 L280.45,256.25 L281.52,256.46 L282.58,256.66 L283.65,256.85 L284.72,257.05 L285.79,257.24 L286.86,257.43 L287.93,257.62 L288.99,257.80 L290.06,257.98 L291.13,258.16 L292.20,258.34 L293.27,258.51 L294.35,258.69 L295.42,258.86 L296.49,259.02 L297.56,259.19 L298.63,259.35 L299.70,259.51 L300.77,259.68 L301.85,259.84 L302.92,260.01 L303.99,260.17 L305.07,260.33 L306.14,260.49 L307.21,260.65 L308.29,260.80 L309.36,260.95 L310.44,261.10 L311.51,261.25 L312.59,261.40 L313.66,261.54 L314.74,261.68 L315.81,261.82 L316.89,261.96 L317.96,262.10 L319.04,262.23 L320.11,262.36 L321.19,262.49 L322.27,262.62 L323.34,262.75 L324.42,262.87 L325.50,263.00 L326.58,263.12 L327.65,263.24 L328.73,263.36 L329.81,263.47 L330.89,263.59 L331.96,263.70 L333.04,263.81 L334.12,263.92 L335.20,264.03 L336.28,264.14 L337.36,264.24 L338.44,264.34 L339.52,264.45 L340.60,264.55 L341.68,264.65 L342.75,264.74 L343.83,264.84 L344.91,264.93 L345.99,265.03 L347.07,265.12 L348.16,265.21 L349.24,265.30 L350.32,265.39 L351.40,265.48 L352.48,265.56 L353.56,265.65 L354.64,265.73 L355.72,265.81 L356.80,265.89 L357.88,265.97 L358.96,266.05 L360.05,266.13 L361.13,266.21 L362.21,266.29 L363.29,266.36 L364.37,266.43 L365.45,266.51 L366.54,266.58 L367.62,266.65 L368.70,266.72 L369.78,266.79 L370.86,266.86 L371.95,266.93 L373.03,266.99 L374.11,267.06 L375.19,267.13 L376.28,267.19 L377.36,267.26 L378.44,267.32 L379.52,267.38 L380.61,267.45 L381.69,267.51 L382.77,267.57 L383.85,267.63 L384.94,267.69 L386.02,267.75 L387.10,267.81 L388.18,267.87 L389.27,267.92 L390.35,267.98 L391.43,268.04 L392.52,268.10 L393.60,268.15 L394.68,268.21 L395.76,268.26 L396.85,268.32 L397.93,268.38 L399.01,268.43 L400.09,268.48 L401.18,268.53 L402.26,268.57 L403.34,268.61 L404.42,268.66 L405.51,268.70 L406.59,268.74 L407.67,268.78 L408.75,268.82 L409.84,268.87 L410.92,268.91 L412.00,268.95 L413.08,268.99 L414.17,269.03 L415.25,269.08 L416.33,269.12 L417.41,269.16 L418.49,269.20 L419.58,269.25 L420.66,269.29 L421.74,269.33 L422.82,269.38 L423.90,269.42 L424.98,269.47 L426.06,269.51 L427.15,269.56 L428.23,269.60 L429.31,269.65 L430.39,269.69 L431.47,269.74 L432.55,269.79 L433.63,269.83 L434.71,269.88 L435.79,269.93 L436.87,269.98 L437.95,270.03 L439.03,270.08 L440.11,270.13 L441.19,270.18 L442.27,270.23 L443.35,270.29 L444.43,270.34 L445.51,270.39 L446.59,270.45 L447.67,270.50 L448.75,270.56 L449.83,270.62 L450.90,270.68 L451.98,270.74 L453.06,270.80 L454.14,270.86 L455.22,270.92 L456.29,270.98 L457.37,271.04 L458.45,271.11 L459.53,271.18 L460.60,271.24 L461.68,271.31 L462.76,271.38 L463.83,271.45 L464.91,271.52 L465.98,271.59 L467.06,271.67 L468.14,271.74 L469.21,271.82 L470.29,271.89 L471.36,271.97 L472.44,272.05 L473.51,272.13 L474.58,272.22 L475.66,272.30 L476.73,272.39 L477.81,272.47 L478.88,272.56" fill="none" stroke="#7f00ff" stroke-width="3.0" stroke-linecap="round" stroke-linejoin="round"/>
<path d="M133.11,164.48 L133.26,165.57 L133.42,166.66 L133.59,167.75 L133.77,168.83 L133.95,169.91 L134.14,170.98 L134.35,172.05 L134.56,173.12 L134.78,174.18 L135.01,175.23 L135.24,176.28 L135.49,177.33 L135.74,178.37 L136.00,179.41 L136.27,180.44 L136.55,181.47 L136.84,182.49 L137.13,183.51 L137.44,184.52 L137.75,185.53 L138.07,186.53 L138.39,187.53 L138.73,188.53 L139.07,189.52 L139.42,190.50 L139.78,191.48 L140.15,192.45 L140.52,193.42 L140.90,194.39 L141.29,195.34 L141.69,196.30 L142.09,197.25 L142.51,198.19 L142.92,199.13 L143.35,200.06 L143.78,200.99 L144.23,201.91 L144.67,202.83 L145.13,203.74 L145.59,204.65 L146.06,205.55 L146.54,206.45 L147.02,207.34 L147.51,208.23 L148.01,209.11 L148.51,209.98 L149.02,210.85 L149.54,211.71 L150.07,212.57 L150.60,213.43 L151.14,214.27 L151.68,215.11 L152.23,215.95 L152.79,216.78 L153.35,217.61 L153.92,218.43 L154.50,219.24 L155.08,220.05 L155.67,220.85 L156.26,221.65 L156.86,222.44 L157.47,223.22 L158.08,224.00 L158.70,224.78 L159.33,225.54 L159.96,226.31 L160.60,227.06 L161.24,227.81 L161.89,228.55 L162.54,229.29 L163.20,230.02 L163.87,230.75 L164.54,231.47 L165.21,232.18 L165.90,232.89 L166.58,233.59 L167.28,234.29 L167.97,234.98 L168.68,235.66 L169.39,236.34 L170.10,237.01 L170.82,237.67 L171.54,238.33 L172.27,238.98 L173.00,239.63 L173.74,240.27 L174.49,240.90 L175.24,241.53 L175.99,242.15 L176.75,242.76 L177.51,243.37 L178.28,243.98 L179.05,244.57 L179.83,245.16 L180.61,245.75 L181.39,246.33 L182.18,246.90 L182.98,247.47 L183.78,248.03 L184.58,248.58 L185.39,249.13 L186.20,249.68 L187.02,250.22 L187.84,250.75 L188.66,251.28 L189.49,251.80 L190.32,252.31 L191.16,252.82 L192.00,253.33 L192.84,253.83 L193.69,254.33 L194.54,254.82 L195.39,255.30 L196.25,255.78 L197.12,256.25 L197.98,256.72 L198.85,257.18 L199.72,257.64 L200.60,258.10 L201.48,258.55 L202.36,258.99 L203.25,259.43 L204.14,259.86 L205.03,260.29 L205.93,260.72 L206.83,261.13 L207.73,261.55 L208.64,261.96 L209.54,262.37 L210.46,262.77 L211.37,263.16 L212.29,263.55 L213.21,263.94 L214.13,264.32 L215.05,264.70 L215.98,265.08 L216.91,265.45 L217.85,265.81 L218.78,266.17 L219.72,266.53 L220.66,266.88 L221.60,267.23 L222.55,267.58 L223.49,267.92 L224.44,268.25 L225.40,268.58 L226.35,268.91 L227.31,269.24 L228.27,269.56 L229.23,269.87 L230.19,270.19 L231.15,270.50 L232.12,270.80 L233.09,271.10 L234.06,271.40 L235.03,271.70 L236.00,271.99 L236.98,272.27 L237.95,272.56 L238.93,272.84 L239.91,273.11 L240.89,273.39 L241.87,273.66 L242.86,273.93 L243.84,274.19 L244.83,274.45 L245.82,274.71 L246.80,274.96 L247.79,275.21 L248.78,275.46 L249.78,275.70 L250.77,275.94 L251.76,276.18 L252.76,276.42 L253.76,276.65 L254.75,276.88 L255.75,277.11 L256.75,277.33 L257.75,277.55 L258.75,277.77 L259.75,277.99 L260.75,278.20 L261.75,278.41 L262.75,278.62 L263.75,278.83 L264.75,279.03 L265.76,279.23 L266.76,279.43 L267.76,279.63 L268.77,279.82 L269.77,280.01 L270.77,280.20 L271.78,280.39 L272.78,280.57 L273.79,280.76 L274.79,280.94 L275.79,281.12 L276.80,281.29 L277.80,281.47 L278.81,281.64 L279.81,281.81 L280.81,281.98 L281.82,282.14 L282.82,282.31 L283.82,282.47 L284.83,282.63 L285.83,282.79 L286.84,282.94 L287.84,283.10 L288.84,283.25 L289.85,283.40 L290.85,283.55 L291.86,283.70 L292.86,283.84 L293.86,283.98 L294.87,284.12 L295.87,284.26 L296.88,284.40 L297.88,284.54 L298.88,284.67 L299.89,284.80 L300.89,284.94 L301.90,285.08 L302.90,285.22 L303.90,285.36 L304.91,285.49 L305.91,285.62 L306.92,285.76 L307.92,285.89 L308.92,286.01 L309.93,286.14 L310.93,286.27 L311.94,286.39 L312.94,286.51 L313.94,286.63 L314.95,286.75 L315.95,286.87 L316.96,286.98 L317.96,287.10 L318.96,287.21 L319.97,287.32 L320.97,287.43 L321.98,287.54 L322.98,287.65 L323.99,287.76 L324.99,287.86 L325.99,287.96 L327.00,288.07 L328.00,288.17 L329.01,288.27 L330.01,288.36 L331.02,288.46 L332.02,288.56 L333.02,288.65 L334.03,288.74 L335.03,288.84 L336.04,288.93 L337.04,289.02 L338.05,289.11 L339.05,289.19 L340.05,289.28 L341.06,289.37 L342.06,289.45 L343.07,289.53 L344.07,289.62 L345.08,289.70 L346.08,289.78 L347.09,289.86 L348.09,289.93 L349.10,290.01 L350.10,290.09 L351.11,290.16 L352.11,290.24 L353.12,290.31 L354.12,290.38 L355.12,290.46 L356.13,290.53 L357.13,290.60 L358.14,290.67 L359.14,290.74 L360.15,290.80 L361.15,290.87 L362.16,290.94 L363.16,291.00 L364.17,291.07 L365.17,291.13 L366.18,291.19 L367.18,291.26 L368.19,291.32 L369.19,291.38 L370.20,291.44 L371.21,291.50 L372.21,291.56 L373.22,291.62 L374.22,291.68 L375.23,291.74 L376.23,291.79 L377.24,291.85 L378.24,291.91 L379.25,291.96 L380.25,292.02 L381.26,292.07 L382.27,292.13 L383.27,292.18 L384.28,292.23 L385.28,292.29 L386.29,292.34 L387.29,292.39 L388.30,292.44 L389.31,292.50 L390.31,292.55 L391.32,292.60 L392.32,292.65 L393.33,292.70 L394.33,292.75 L395.34,292.80 L396.35,292.85 L397.35,292.90 L398.36,292.95 L399.37,293.00 L400.37,293.05 L401.38,293.08 L402.38,293.12 L403.39,293.16 L404.40,293.20 L405.40,293.24 L406.41,293.27 L407.42,293.31 L408.42,293.35 L409.43,293.39 L410.44,293.43 L411.44,293.46 L412.45,293.50 L413.46,293.54 L414.46,293.58 L415.47,293.61 L416.48,293.65 L417.48,293.69 L418.49,293.73 L419.50,293.77 L420.50,293.81 L421.51,293.85 L422.52,293.89 L423.53,293.92 L424.53,293.96 L425.54,294.00 L426.55,294.04 L427.55,294.08 L428.56,294.13 L429.57,294.17 L430.58,294.21 L431.58,294.25 L432.59,294.29 L433.60,294.33 L434.61,294.38 L435.61,294.42 L436.62,294.46 L437.63,294.51 L438.64,294.55 L439.65,294.60 L440.65,294.64 L441.66,294.69 L442.67,294.74 L443.68,294.78 L444.69,294.83 L445.69,294.88 L446.70,294.93 L447.71,294.98 L448.72,295.03 L449.73,295.08 L450.74,295.13 L451.74,295.18 L452.75,295.23 L453.76,295.29 L454.77,295.34 L455.78,295.40 L456.79,295.45 L457.80,295.51 L458.81,295.57 L459.81,295.62 L460.82,295.68 L461.83,295.74 L462.84,295.80 L463.85,295.86 L464.86,295.93 L465.87,295.99 L466.88,296.05 L467.89,296.12 L468.90,296.18 L469.91,296.25 L470.92,296.32 L471.93,296.39 L472.94,296.46 L473.94,296.53 L474.95,296.60 L475.96,296.67 L476.97,296.75 L477.98,296.82 L478.99,296.90" fill="none" stroke="#ff7f00" stroke-width="3.0" stroke-linecap="round" stroke-linejoin="round"/>
<path d="M133.51,208.10 L133.66,209.09 L133.82,210.08 L133.99,211.07 L134.17,212.05 L134.35,213.04 L134.55,214.02 L134.76,215.00 L134.97,215.98 L135.19,216.96 L135.43,217.94 L135.67,218.91 L135.92,219.88 L136.17,220.85 L136.44,221.81 L136.72,222.78 L137.00,223.74 L137.30,224.70 L137.60,225.65 L137.91,226.60 L138.23,227.55 L138.55,228.50 L138.89,229.44 L139.24,230.38 L139.59,231.31 L139.95,232.25 L140.32,233.17 L140.70,234.10 L141.08,235.02 L141.48,235.94 L141.88,236.85 L142.29,237.76 L142.71,238.67 L143.14,239.57 L143.58,240.46 L144.02,241.36 L144.47,242.25 L144.93,243.13 L145.40,244.01 L145.88,244.88 L146.36,245.75 L146.85,246.62 L147.35,247.48 L147.86,248.33 L148.38,249.18 L148.90,250.03 L149.43,250.87 L149.97,251.70 L150.51,252.53 L151.06,253.35 L151.62,254.17 L152.19,254.99 L152.76,255.79 L153.34,256.60 L153.93,257.39 L154.53,258.19 L155.13,258.97 L155.73,259.75 L156.35,260.53 L156.97,261.30 L157.59,262.06 L158.23,262.82 L158.87,263.57 L159.51,264.31 L160.17,265.05 L160.82,265.78 L161.49,266.51 L162.16,267.23 L162.83,267.94 L163.52,268.65 L164.20,269.35 L164.90,270.04 L165.60,270.73 L166.30,271.41 L167.01,272.09 L167.72,272.76 L168.44,273.42 L169.17,274.07 L169.90,274.72 L170.64,275.36 L171.38,275.99 L172.12,276.62 L172.87,277.24 L173.63,277.85 L174.39,278.45 L175.15,279.05 L175.92,279.64 L176.69,280.22 L177.47,280.80 L178.25,281.37 L179.04,281.93 L179.83,282.48 L180.63,283.03 L181.43,283.56 L182.23,284.10 L183.04,284.62 L183.85,285.14 L184.66,285.65 L185.48,286.15 L186.31,286.65 L187.14,287.14 L187.97,287.62 L188.80,288.10 L189.64,288.57 L190.48,289.03 L191.33,289.49 L192.18,289.94 L193.03,290.39 L193.89,290.83 L194.75,291.26 L195.62,291.68 L196.48,292.10 L197.35,292.52 L198.23,292.93 L199.11,293.33 L199.99,293.72 L200.87,294.11 L201.76,294.50 L202.65,294.88 L203.54,295.25 L204.44,295.62 L205.34,295.98 L206.24,296.34 L207.15,296.69 L208.06,297.03 L208.97,297.37 L209.88,297.71 L210.80,298.04 L211.72,298.36 L212.64,298.68 L213.56,298.99 L214.49,299.30 L215.42,299.61 L216.35,299.91 L217.29,300.20 L218.23,300.49 L219.17,300.78 L220.11,301.06 L221.05,301.34 L222.00,301.61 L222.95,301.87 L223.90,302.14 L224.85,302.40 L225.80,302.65 L226.76,302.90 L227.72,303.15 L228.68,303.39 L229.64,303.63 L230.61,303.86 L231.58,304.09 L232.54,304.31 L233.51,304.54 L234.49,304.75 L235.46,304.97 L236.43,305.18 L237.41,305.39 L238.39,305.59 L239.37,305.79 L240.35,305.99 L241.33,306.18 L242.31,306.37 L243.30,306.56 L244.29,306.74 L245.27,306.92 L246.26,307.10 L247.25,307.27 L248.24,307.44 L249.23,307.61 L250.23,307.78 L251.22,307.94 L252.21,308.10 L253.21,308.26 L254.21,308.41 L255.20,308.57 L256.20,308.71 L257.20,308.86 L258.20,309.01 L259.20,309.15 L260.20,309.29 L261.20,309.43 L262.20,309.56 L263.20,309.70 L264.21,309.83 L265.21,309.96 L266.21,310.09 L267.22,310.21 L268.22,310.33 L269.22,310.46 L270.23,310.58 L271.23,310.70 L272.24,310.81 L273.24,310.93 L274.24,311.04 L275.25,311.16 L276.25,311.27 L277.25,311.38 L278.26,311.49 L279.26,311.59 L280.26,311.70 L281.27,311.80 L282.27,311.91 L283.27,312.01 L284.27,312.11 L285.27,312.22 L286.28,312.32 L287.28,312.42 L288.27,312.52 L289.27,312.61 L290.27,312.71 L291.27,312.81 L292.27,312.90 L293.27,313.00 L294.26,313.09 L295.26,313.19 L296.26,313.28 L297.25,313.37 L298.25,313.46 L299.24,313.55 L300.24,313.64 L301.23,313.74 L302.22,313.84 L303.22,313.94 L304.21,314.03 L305.20,314.13 L306.19,314.23 L307.19,314.32 L308.18,314.42 L309.17,314.51 L310.16,314.60 L311.15,314.69 L312.14,314.78 L313.13,314.87 L314.12,314.96 L315.11,315.05 L316.10,315.14 L317.09,315.23 L318.07,315.31 L319.06,315.40 L320.05,315.49 L321.04,315.57 L322.02,315.65 L323.01,315.74 L324.00,315.82 L324.98,315.90 L325.97,315.98 L326.96,316.06 L327.94,316.14 L328.93,316.22 L329.91,316.30 L330.90,316.38 L331.88,316.46 L332.86,316.53 L333.85,316.61 L334.83,316.68 L335.82,316.76 L336.80,316.83 L337.78,316.91 L338.77,316.98 L339.75,317.05 L340.73,317.12 L341.72,317.19 L342.70,317.26 L343.68,317.33 L344.66,317.40 L345.64,317.47 L346.63,317.54 L347.61,317.61 L348.59,317.67 L349.57,317.74 L350.55,317.81 L351.54,317.87 L352.52,317.94 L353.50,318.00 L354.48,318.07 L355.46,318.13 L356.44,318.19 L357.42,318.25 L358.40,318.32 L359.38,318.38 L360.36,318.44 L361.34,318.50 L362.32,318.56 L363.31,318.62 L364.29,318.67 L365.27,318.73 L366.25,318.79 L367.23,318.85 L368.21,318.91 L369.19,318.96 L370.17,319.02 L371.15,319.07 L372.13,319.13 L373.11,319.18 L374.09,319.24 L375.07,319.29 L376.05,319.34 L377.03,319.40 L378.01,319.45 L378.99,319.50 L379.97,319.55 L380.95,319.60 L381.93,319.65 L382.92,319.71 L383.90,319.76 L384.88,319.81 L385.86,319.85 L386.84,319.90 L387.82,319.95 L388.80,320.00 L389.78,320.05 L390.77,320.10 L391.75,320.14 L392.73,320.19 L393.71,320.24 L394.69,320.28 L395.68,320.33 L396.66,320.37 L397.64,320.42 L398.62,320.46 L399.61,320.51 L400.59,320.55 L401.57,320.58 L402.56,320.61 L403.54,320.64 L404.52,320.68 L405.51,320.71 L406.49,320.74 L407.48,320.77 L408.46,320.80 L409.45,320.83 L410.43,320.86 L411.42,320.89 L412.40,320.92 L413.39,320.95 L414.37,320.98 L415.36,321.01 L416.35,321.04 L417.33,321.07 L418.32,321.10 L419.31,321.13 L420.30,321.16 L421.28,321.18 L422.27,321.21 L423.26,321.24 L424.25,321.27 L425.24,321.29 L426.23,321.32 L427.22,321.35 L428.21,321.37 L429.20,321.40 L430.19,321.43 L431.18,321.45 L432.17,321.48 L433.17,321.51 L434.16,321.53 L435.15,321.56 L436.14,321.58 L437.14,321.61 L438.13,321.63 L439.13,321.66 L440.12,321.68 L441.11,321.71 L442.11,321.73 L443.11,321.76 L444.10,321.78 L445.10,321.81 L446.10,321.83 L447.09,321.85 L448.09,321.88 L449.09,321.90 L450.09,321.93 L451.09,321.95 L452.09,321.97 L453.09,322.00 L454.09,322.02 L455.09,322.05 L456.09,322.07 L457.09,322.09 L458.10,322.12 L459.10,322.14 L460.10,322.16 L461.11,322.19 L462.11,322.21 L463.12,322.23 L464.12,322.26 L465.13,322.28 L466.14,322.31 L467.14,322.33 L468.15,322.35 L469.16,322.38 L470.17,322.40 L471.18,322.42 L472.19,322.45 L473.20,322.47 L474.21,322.49 L475.22,322.52 L476.24,322.54 L477.25,322.57 L478.26,322.59 L479.28,322.61" fill="none" stroke="#137f7f" stroke-width="3.0" stroke-linecap="round" stroke-linejoin="round"/>
<path d="M131.23,270.36 L131.70,271.26 L132.18,272.14 L132.67,273.02 L133.16,273.89 L133.65,274.75 L134.16,275.61 L134.67,276.45 L135.18,277.29 L135.70,278.12 L136.23,278.94 L136.76,279.76 L137.30,280.56 L137.84,281.36 L138.39,282.15 L138.95,282.93 L139.51,283.71 L140.07,284.48 L140.64,285.24 L141.22,285.99 L141.80,286.73 L142.39,287.47 L142.99,288.20 L143.58,288.93 L144.19,289.64 L144.80,290.35 L145.41,291.05 L146.03,291.74 L146.65,292.43 L147.28,293.11 L147.92,293.78 L148.56,294.45 L149.20,295.11 L149.85,295.76 L150.50,296.41 L151.16,297.04 L151.82,297.68 L152.49,298.30 L153.16,298.92 L153.84,299.53 L154.52,300.14 L155.21,300.73 L155.90,301.33 L156.59,301.91 L157.29,302.49 L157.99,303.06 L158.70,303.63 L159.41,304.19 L160.13,304.74 L160.85,305.29 L161.57,305.83 L162.30,306.37 L163.03,306.90 L163.76,307.42 L164.50,307.94 L165.24,308.45 L165.99,308.95 L166.74,309.45 L167.50,309.95 L168.25,310.44 L169.01,310.92 L169.78,311.40 L170.55,311.87 L171.32,312.33 L172.09,312.79 L172.87,313.25 L173.65,313.69 L174.44,314.14 L175.23,314.58 L176.02,315.01 L176.81,315.44 L177.61,315.86 L178.41,316.28 L179.22,316.69 L180.02,317.10 L180.83,317.50 L181.64,317.89 L182.46,318.29 L183.28,318.67 L184.10,319.06 L184.92,319.43 L185.74,319.80 L186.57,320.17 L187.40,320.54 L188.24,320.89 L189.07,321.25 L189.91,321.60 L190.75,321.94 L191.59,322.28 L192.44,322.62 L193.29,322.95 L194.13,323.28 L194.99,323.60 L195.84,323.92 L196.69,324.23 L197.55,324.54 L198.41,324.85 L199.27,325.15 L200.14,325.45 L201.00,325.74 L201.87,326.03 L202.74,326.31 L203.61,326.60 L204.48,326.87 L205.35,327.15 L206.23,327.42 L207.11,327.68 L207.99,327.95 L208.87,328.20 L209.75,328.46 L210.63,328.71 L211.52,328.96 L212.41,329.20 L213.30,329.44 L214.19,329.68 L215.08,329.91 L215.97,330.14 L216.87,330.37 L217.77,330.59 L218.66,330.81 L219.56,331.03 L220.47,331.24 L221.37,331.45 L222.27,331.66 L223.18,331.86 L224.08,332.06 L224.99,332.26 L225.90,332.46 L226.81,332.65 L227.72,332.84 L228.63,333.02 L229.55,333.20 L230.46,333.38 L231.38,333.56 L232.30,333.73 L233.21,333.91 L234.13,334.07 L235.05,334.24 L235.97,334.40 L236.90,334.56 L237.82,334.72 L238.74,334.88 L239.67,335.03 L240.60,335.18 L241.52,335.33 L242.45,335.47 L243.38,335.61 L244.31,335.75 L245.24,335.89 L246.17,336.03 L247.10,336.16 L248.03,336.29 L248.97,336.42 L249.90,336.55 L250.84,336.67 L251.77,336.80 L252.71,336.92 L253.64,337.04 L254.58,337.15 L255.52,337.27 L256.45,337.38 L257.39,337.49 L258.33,337.60 L259.27,337.71 L260.21,337.81 L261.15,337.92 L262.09,338.02 L263.03,338.12 L263.97,338.22 L264.91,338.32 L265.86,338.41 L266.80,338.51 L267.74,338.60 L268.68,338.69 L269.63,338.78 L270.57,338.87 L271.51,338.96 L272.46,339.04 L273.40,339.13 L274.34,339.21 L275.29,339.29 L276.23,339.37 L277.17,339.45 L278.12,339.53 L279.06,339.61 L280.00,339.68 L280.95,339.76 L281.89,339.83 L282.83,339.91 L283.78,339.98 L284.72,340.05 L285.66,340.12 L286.60,340.19 L287.55,340.26 L288.49,340.33 L289.43,340.40 L290.37,340.47 L291.31,340.54 L292.25,340.60 L293.19,340.67 L294.13,340.73 L295.07,340.80 L296.01,340.86 L296.95,340.92 L297.89,340.99 L298.83,341.05 L299.77,341.11 L300.70,341.18 L301.64,341.25 L302.58,341.32 L303.51,341.39 L304.45,341.46 L305.39,341.53 L306.32,341.60 L307.26,341.67 L308.19,341.74 L309.13,341.80 L310.06,341.87 L311.00,341.94 L311.93,342.00 L312.86,342.07 L313.80,342.13 L314.73,342.20 L315.66,342.26 L316.59,342.33 L317.53,342.39 L318.46,342.45 L319.39,342.51 L320.32,342.57 L321.25,342.64 L322.18,342.70 L323.11,342.76 L324.05,342.82 L324.98,342.88 L325.91,342.94 L326.84,342.99 L327.76,343.05 L328.69,343.11 L329.62,343.17 L330.55,343.22 L331.48,343.28 L332.41,343.34 L333.34,343.39 L334.27,343.45 L335.19,343.50 L336.12,343.56 L337.05,343.61 L337.98,343.67 L338.90,343.72 L339.83,343.77 L340.76,343.83 L341.68,343.88 L342.61,343.93 L343.54,343.98 L344.46,344.03 L345.39,344.08 L346.32,344.13 L347.24,344.18 L348.17,344.23 L349.09,344.28 L350.02,344.33 L350.94,344.38 L351.87,344.43 L352.79,344.48 L353.72,344.53 L354.64,344.57 L355.57,344.62 L356.49,344.67 L357.42,344.72 L358.34,344.76 L359.27,344.81 L360.19,344.85 L361.11,344.90 L362.04,344.94 L362.96,344.99 L363.89,345.03 L364.81,345.08 L365.73,345.12 L366.66,345.17 L367.58,345.21 L368.50,345.25 L369.43,345.30 L370.35,345.34 L371.28,345.38 L372.20,345.42 L373.12,345.47 L374.05,345.51 L374.97,345.55 L375.89,345.59 L376.82,345.63 L377.74,345.67 L378.66,345.71 L379.58,345.76 L380.51,345.80 L381.43,345.84 L382.35,345.88 L383.28,345.92 L384.20,345.95 L385.12,345.99 L386.05,346.03 L386.97,346.07 L387.89,346.11 L388.82,346.15 L389.74,346.19 L390.66,346.23 L391.59,346.26 L392.51,346.30 L393.43,346.34 L394.36,346.38 L395.28,346.42 L396.21,346.45 L397.13,346.49 L398.05,346.53 L398.98,346.56 L399.90,346.60 L400.83,346.63 L401.75,346.65 L402.67,346.68 L403.60,346.71 L404.52,346.73 L405.45,346.76 L406.37,346.78 L407.30,346.81 L408.22,346.83 L409.15,346.86 L410.07,346.88 L411.00,346.91 L411.92,346.94 L412.85,346.96 L413.77,346.99 L414.70,347.01 L415.62,347.03 L416.55,347.06 L417.48,347.08 L418.40,347.11 L419.33,347.13 L420.26,347.16 L421.18,347.18 L422.11,347.21 L423.04,347.23 L423.96,347.25 L424.89,347.28 L425.82,347.30 L426.75,347.33 L427.68,347.35 L428.60,347.38 L429.53,347.40 L430.46,347.42 L431.39,347.45 L432.32,347.47 L433.25,347.50 L434.18,347.52 L435.11,347.54 L436.04,347.57 L436.97,347.59 L437.90,347.61 L438.83,347.64 L439.76,347.66 L440.69,347.69 L441.62,347.71 L442.55,347.73 L443.48,347.76 L444.42,347.78 L445.35,347.81 L446.28,347.83 L447.21,347.86 L448.15,347.88 L449.08,347.90 L450.01,347.93 L450.95,347.95 L451.88,347.98 L452.82,348.00 L453.75,348.03 L454.69,348.05 L455.62,348.08 L456.56,348.10 L457.50,348.13 L458.43,348.15 L459.37,348.18 L460.31,348.20 L461.24,348.23 L462.18,348.25 L463.12,348.28 L464.06,348.30 L465.00,348.33 L465.93,348.36 L466.87,348.38 L467.81,348.41 L468.75,348.43 L469.69,348.46 L470.64,348.49 L471.58,348.51 L472.52,348.54 L473.46,348.57 L474.40,348.59 L475.35,348.62 L476.29,348.65 L477.23,348.68 L478.18,348.70 L479.12,348.73" fill="none" stroke="#7f007f" stroke-width="3.0" stroke-linecap="round" stroke-linejoin="round"/>
<path d="M140.27,366.34 L141.11,366.53 L141.94,366.71 L142.78,366.89 L143.61,367.07 L144.45,367.25 L145.28,367.43 L146.12,367.61 L146.95,367.78 L147.79,367.96 L148.62,368.13 L149.46,368.30 L150.30,368.47 L151.13,368.65 L151.97,368.81 L152.81,368.98 L153.64,369.15 L154.48,369.31 L155.32,369.48 L156.15,369.64 L156.99,369.80 L157.83,369.97 L158.67,370.13 L159.50,370.28 L160.34,370.44 L161.18,370.60 L162.02,370.76 L162.86,370.91 L163.69,371.06 L164.53,371.22 L165.37,371.37 L166.21,371.52 L167.05,371.67 L167.89,371.82 L168.73,371.96 L169.57,372.11 L170.40,372.25 L171.24,372.40 L172.08,372.54 L172.92,372.68 L173.76,372.83 L174.60,372.97 L175.44,373.10 L176.28,373.24 L177.12,373.38 L177.96,373.52 L178.80,373.65 L179.65,373.78 L180.49,373.92 L181.33,374.05 L182.17,374.18 L183.01,374.31 L183.85,374.44 L184.69,374.57 L185.53,374.70 L186.38,374.82 L187.22,374.95 L188.06,375.07 L188.90,375.19 L189.74,375.32 L190.59,375.44 L191.43,375.56 L192.27,375.68 L193.11,375.80 L193.96,375.91 L194.80,376.03 L195.64,376.15 L196.48,376.26 L197.33,376.38 L198.17,376.49 L199.01,376.60 L199.86,376.71 L200.70,376.82 L201.55,376.93 L202.39,377.04 L203.23,377.15 L204.08,377.26 L204.92,377.36 L205.77,377.47 L206.61,377.57 L207.45,377.67 L208.30,377.78 L209.14,377.88 L209.99,377.98 L210.83,378.08 L211.68,378.18 L212.52,378.28 L213.37,378.38 L214.21,378.47 L215.06,378.57 L215.90,378.66 L216.75,378.76 L217.59,378.85 L218.44,378.94 L219.29,379.03 L220.13,379.13 L220.98,379.22 L221.82,379.31 L222.67,379.39 L223.52,379.48 L224.36,379.57 L225.21,379.65 L226.06,379.74 L226.90,379.82 L227.75,379.91 L228.60,379.99 L229.44,380.07 L230.29,380.16 L231.14,380.24 L231.98,380.32 L232.83,380.40 L233.68,380.48 L234.53,380.55 L235.37,380.63 L236.22,380.71 L237.07,380.78 L237.92,380.86 L238.76,380.93 L239.61,381.01 L240.46,381.08 L241.31,381.15 L242.16,381.22 L243.00,381.29 L243.85,381.36 L244.70,381.43 L245.55,381.50 L246.40,381.57 L247.25,381.64 L248.10,381.70 L248.94,381.77 L249.79,381.83 L250.64,381.90 L251.49,381.96 L252.34,382.03 L253.19,382.09 L254.04,382.15 L254.89,382.21 L255.74,382.27 L256.59,382.33 L257.44,382.39 L258.29,382.45 L259.14,382.51 L259.98,382.57 L260.83,382.63 L261.68,382.68 L262.53,382.74 L263.38,382.79 L264.23,382.85 L265.08,382.90 L265.93,382.96 L266.78,383.01 L267.63,383.06 L268.49,383.11 L269.34,383.17 L270.19,383.22 L271.04,383.27 L271.89,383.32 L272.74,383.37 L273.59,383.41 L274.44,383.46 L275.29,383.51 L276.14,383.56 L276.99,383.60 L277.84,383.65 L278.69,383.69 L279.54,383.74 L280.40,383.78 L281.25,383.83 L282.10,383.87 L282.95,383.91 L283.80,383.95 L284.65,384.00 L285.50,384.04 L286.35,384.08 L287.21,384.12 L288.06,384.16 L288.91,384.20 L289.76,384.24 L290.61,384.28 L291.46,384.31 L292.32,384.35 L293.17,384.39 L294.02,384.42 L294.87,384.46 L295.72,384.50 L296.58,384.53 L297.43,384.57 L298.28,384.60 L299.13,384.63 L299.98,384.67 L300.84,384.71 L301.69,384.75 L302.54,384.79 L303.39,384.83 L304.25,384.88 L305.10,384.92 L305.95,384.96 L306.80,385.00 L307.66,385.03 L308.51,385.07 L309.36,385.11 L310.21,385.15 L311.07,385.19 L311.92,385.23 L312.77,385.26 L313.62,385.30 L314.48,385.34 L315.33,385.37 L316.18,385.41 L317.04,385.44 L317.89,385.48 L318.74,385.51 L319.59,385.55 L320.45,385.58 L321.30,385.61 L322.15,385.65 L323.01,385.68 L323.86,385.71 L324.71,385.74 L325.57,385.78 L326.42,385.81 L327.27,385.84 L328.12,385.87 L328.98,385.90 L329.83,385.93 L330.68,385.96 L331.54,385.99 L332.39,386.02 L333.24,386.05 L334.10,386.08 L334.95,386.11 L335.80,386.14 L336.66,386.17 L337.51,386.19 L338.36,386.22 L339.22,386.25 L340.07,386.28 L340.92,386.31 L341.78,386.33 L342.63,386.36 L343.48,386.39 L344.34,386.41 L345.19,386.44 L346.04,386.46 L346.90,386.49 L347.75,386.52 L348.60,386.54 L349.46,386.57 L350.31,386.59 L351.17,386.62 L352.02,386.64 L352.87,386.66 L353.73,386.69 L354.58,386.71 L355.43,386.74 L356.29,386.76 L357.14,386.78 L357.99,386.81 L358.85,386.83 L359.70,386.85 L360.55,386.88 L361.41,386.90 L362.26,386.92 L363.11,386.95 L363.97,386.97 L364.82,386.99 L365.67,387.01 L366.53,387.03 L367.38,387.06 L368.23,387.08 L369.09,387.10 L369.94,387.12 L370.80,387.14 L371.65,387.17 L372.50,387.19 L373.36,387.21 L374.21,387.23 L375.06,387.25 L375.92,387.27 L376.77,387.29 L377.62,387.31 L378.48,387.34 L379.33,387.36 L380.18,387.38 L381.04,387.40 L381.89,387.42 L382.74,387.44 L383.60,387.46 L384.45,387.48 L385.30,387.50 L386.15,387.52 L387.01,387.54 L387.86,387.56 L388.71,387.59 L389.57,387.61 L390.42,387.63 L391.27,387.65 L392.13,387.67 L392.98,387.69 L393.83,387.71 L394.69,387.73 L395.54,387.75 L396.39,387.77 L397.24,387.79 L398.10,387.81 L398.95,387.83 L399.80,387.86 L400.66,387.87 L401.51,387.88 L402.36,387.89 L403.21,387.90 L404.07,387.92 L404.92,387.93 L405.77,387.94 L406.62,387.95 L407.48,387.96 L408.33,387.98 L409.18,387.99 L410.03,388.00 L410.89,388.01 L411.74,388.03 L412.59,388.04 L413.44,388.05 L414.30,388.07 L415.15,388.08 L416.00,388.09 L416.85,388.11 L417.70,388.12 L418.56,388.13 L419.41,388.15 L420.26,388.16 L421.11,388.17 L421.96,388.19 L422.82,388.20 L423.67,388.22 L424.52,388.23 L425.37,388.25 L426.22,388.26 L427.07,388.28 L427.93,388.29 L428.78,388.31 L429.63,388.32 L430.48,388.34 L431.33,388.36 L432.18,388.37 L433.03,388.39 L433.88,388.41 L434.74,388.42 L435.59,388.44 L436.44,388.46 L437.29,388.47 L438.14,388.49 L438.99,388.51 L439.84,388.53 L440.69,388.55 L441.54,388.57 L442.39,388.59 L443.24,388.60 L444.09,388.62 L444.95,388.64 L445.80,388.66 L446.65,388.68 L447.50,388.70 L448.35,388.73 L449.20,388.75 L450.05,388.77 L450.90,388.79 L451.75,388.81 L452.60,388.83 L453.45,388.86 L454.30,388.88 L455.15,388.90 L456.00,388.93 L456.85,388.95 L457.69,388.97 L458.54,389.00 L459.39,389.02 L460.24,389.05 L461.09,389.07 L461.94,389.10 L462.79,389.13 L463.64,389.15 L464.49,389.18 L465.34,389.21 L466.19,389.24 L467.03,389.26 L467.88,389.29 L468.73,389.32 L469.58,389.35 L470.43,389.38 L471.28,389.41 L472.13,389.44 L472.97,389.47 L473.82,389.50 L474.67,389.53 L475.52,389.56 L476.37,389.60 L477.21,389.63 L478.06,389.66 L478.91,389.69" fill="none" stroke="#000000" stroke-width="3.0" stroke-linecap="round" stroke-linejoin="round"/>
<path d="M823.20,273.20 C823.48,273.97 824.13,275.92 824.90,277.80 C825.67,279.68 826.90,282.45 827.80,284.50 C828.70,286.55 829.47,288.32 830.30,290.10 C831.13,291.88 832.10,293.58 832.80,295.20 C833.50,296.82 833.73,298.12 834.50,299.80 C835.27,301.48 836.47,303.47 837.40,305.30 C838.33,307.13 839.17,309.05 840.10,310.80 C841.03,312.55 842.10,314.05 843.00,315.80 C843.90,317.55 844.65,319.60 845.50,321.30 C846.35,323.00 847.25,324.43 848.10,326.00 C848.95,327.57 849.63,329.10 850.60,330.70 C851.57,332.30 852.62,333.83 853.90,335.60 C855.18,337.37 857.20,339.70 858.30,341.30 C859.40,342.90 859.58,343.82 860.50,345.20 C861.42,346.58 862.52,348.07 863.80,349.60 C865.08,351.13 866.72,352.85 868.20,354.40 C869.68,355.95 871.32,357.62 872.70,358.90 C874.08,360.18 875.07,360.93 876.50,362.10 C877.93,363.27 879.72,364.63 881.30,365.90 C882.88,367.17 884.37,368.43 886.00,369.70 C887.63,370.97 889.40,372.38 891.10,373.50 C892.80,374.62 894.33,375.23 896.20,376.40 C898.07,377.57 900.62,379.55 902.30,380.50 C903.98,381.45 904.72,381.43 906.30,382.10 C907.88,382.77 909.93,383.70 911.80,384.50 C913.67,385.30 915.45,385.97 917.50,386.90 C919.55,387.83 922.05,389.25 924.10,390.10 C926.15,390.95 928.05,391.62 929.80,392.00 C931.55,392.38 932.70,391.92 934.60,392.40 C936.50,392.88 939.13,394.27 941.20,394.90 C943.27,395.53 945.03,395.82 947.00,396.20 C948.97,396.58 951.03,396.85 953.00,397.20 C954.97,397.55 956.82,397.97 958.80,398.30 C960.78,398.63 963.88,399.05 964.90,399.20" fill="none" stroke="#ff0000" stroke-width="2.9" stroke-linecap="round" stroke-dasharray="0 5.9"/>
<path d="M822.00,325.60 C822.82,326.28 825.37,328.23 826.90,329.70 C828.43,331.17 829.77,332.98 831.20,334.40 C832.63,335.82 834.05,336.93 835.50,338.20 C836.95,339.47 838.43,340.67 839.90,342.00 C841.37,343.33 842.82,344.83 844.30,346.20 C845.78,347.57 847.27,348.90 848.80,350.20 C850.33,351.50 851.97,352.73 853.50,354.00 C855.03,355.27 856.47,356.53 858.00,357.80 C859.53,359.07 861.10,360.37 862.70,361.60 C864.30,362.83 866.00,364.00 867.60,365.20 C869.20,366.40 870.50,367.48 872.30,368.80 C874.10,370.12 876.53,371.80 878.40,373.10 C880.27,374.40 882.02,375.68 883.50,376.60 C884.98,377.52 885.78,377.75 887.30,378.60 C888.82,379.45 890.65,380.50 892.60,381.70 C894.55,382.90 897.25,384.85 899.00,385.80 C900.75,386.75 901.45,386.77 903.10,387.40 C904.75,388.03 906.88,388.75 908.90,389.60 C910.92,390.45 910.02,391.35 915.20,392.50 C920.38,393.65 931.32,395.28 940.00,396.50 C948.68,397.72 962.75,399.25 967.30,399.80" fill="none" stroke="#7f00ff" stroke-width="2.9" stroke-linecap="round" stroke-dasharray="0 5.9"/>
<path d="M823.00,397.80 C829.17,398.08 843.83,398.97 860.00,399.50 C876.17,400.03 902.17,400.62 920.00,401.00 C937.83,401.38 959.17,401.67 967.00,401.80" fill="none" stroke="#7f007f" stroke-width="2.9" stroke-linecap="round" stroke-dasharray="0 5.9"/>
<path d="M823.00,402.70 L967.00,402.70" fill="none" stroke="#137f7f" stroke-width="2.9" stroke-linecap="round" stroke-dasharray="0 5.9"/>
<path d="M597.50,25.90 L602.70,25.90 L609.10,25.30 L613.30,25.90 L616.50,27.00 L620.10,25.30 L623.50,27.40 L627.10,28.90 L630.60,26.30 L633.40,29.50 L636.60,31.00 L640.80,28.90 L645.00,32.30 L648.20,33.70 L652.00,32.30 L658.30,34.80 L661.50,34.40 L666.80,38.60 L673.10,38.60 L681.60,41.60 L681.80,41.61 L682.02,41.67 L682.23,41.74 L682.44,41.80 L682.65,41.87 L682.87,41.93 L683.08,42.00 L683.29,42.07 L683.50,42.14 L683.71,42.20 L683.92,42.27 L684.13,42.34 L684.34,42.41 L684.55,42.48 L684.76,42.55 L684.97,42.62 L685.18,42.70 L685.39,42.77 L685.60,42.84 L685.80,42.92 L686.01,42.99 L686.22,43.07 L686.42,43.14 L686.63,43.22 L686.84,43.29 L687.04,43.37 L687.25,43.45 L687.45,43.53 L687.66,43.60 L687.86,43.68 L688.07,43.76 L688.27,43.84 L688.48,43.92 L688.68,44.00 L688.88,44.09 L689.09,44.17 L689.29,44.25 L689.49,44.33 L689.70,44.42 L689.90,44.50 L690.10,44.59 L690.30,44.67 L690.50,44.76 L690.70,44.84 L690.90,44.93 L691.10,45.02 L691.30,45.10 L691.50,45.19 L691.70,45.28 L691.90,45.37 L692.10,45.46 L692.30,45.55 L692.50,45.64 L692.70,45.73 L692.89,45.82 L693.09,45.91 L693.29,46.01 L693.48,46.10 L693.68,46.19 L693.88,46.29 L694.07,46.38 L694.27,46.48 L694.46,46.57 L694.66,46.67 L694.85,46.76 L695.05,46.86 L695.24,46.96 L695.44,47.06 L695.63,47.15 L695.82,47.25 L696.02,47.35 L696.21,47.45 L696.40,47.55 L696.60,47.65 L696.79,47.75 L696.98,47.86 L697.17,47.96 L697.36,48.06 L697.55,48.16 L697.74,48.27 L697.93,48.37 L698.12,48.47 L698.31,48.58 L698.50,48.68 L698.69,48.79 L698.88,48.90 L699.07,49.00 L699.26,49.11 L699.45,49.22 L699.64,49.32 L699.82,49.43 L700.01,49.54 L700.20,49.65 L700.39,49.76 L700.57,49.87 L700.76,49.98 L700.95,50.09 L701.13,50.20 L701.32,50.31 L701.50,50.42 L701.69,50.54 L701.87,50.65 L702.06,50.76 L702.24,50.88 L702.42,50.99 L702.61,51.11 L702.79,51.22 L702.98,51.34 L703.16,51.45 L703.34,51.57 L703.52,51.68 L703.71,51.80 L703.89,51.92 L704.07,52.04 L704.25,52.16 L704.43,52.27 L704.61,52.39 L704.79,52.51 L704.97,52.63 L705.15,52.75 L705.33,52.87 L705.51,52.99 L705.69,53.12 L705.87,53.24 L706.05,53.36 L706.23,53.48 L706.41,53.61 L706.58,53.73 L706.76,53.85 L706.94,53.98 L707.12,54.10 L707.29,54.23 L707.47,54.35 L707.65,54.48 L707.82,54.60 L708.00,54.73 L708.17,54.86 L708.35,54.98 L708.52,55.11 L708.70,55.24 L708.87,55.37 L709.05,55.50 L709.22,55.63 L709.40,55.75 L709.57,55.88 L709.74,56.01 L709.92,56.15 L710.09,56.28 L710.26,56.41 L710.43,56.54 L710.61,56.67 L710.78,56.80 L710.95,56.94 L711.12,57.07 L711.29,57.20 L711.46,57.34 L711.63,57.47 L711.80,57.60 L711.97,57.74 L712.14,57.87 L712.31,58.01 L712.48,58.14 L712.65,58.28 L712.82,58.42 L712.99,58.55 L713.16,58.69 L713.33,58.83 L713.49,58.97 L713.66,59.10 L713.83,59.24 L714.00,59.38 L714.16,59.52 L714.33,59.66 L714.50,59.80 L714.66,59.94 L714.83,60.08 L715.00,60.22 L715.16,60.36 L715.33,60.50 L715.49,60.64 L715.66,60.79 L715.82,60.93 L715.98,61.07 L716.15,61.21 L716.31,61.36 L716.48,61.50 L716.64,61.64 L716.80,61.79 L716.97,61.93 L717.13,62.08 L717.29,62.22 L717.45,62.37 L717.61,62.51 L717.78,62.66 L717.94,62.80 L718.10,62.95 L718.26,63.10 L718.42,63.24 L718.58,63.39 L718.74,63.54 L718.90,63.69 L719.06,63.84 L719.22,63.98 L719.38,64.13 L719.54,64.28 L719.70,64.43 L719.86,64.58 L720.01,64.73 L720.17,64.88 L720.33,65.03 L720.49,65.18 L720.65,65.33 L720.80,65.48 L720.96,65.63 L721.12,65.79 L721.27,65.94 L721.43,66.09 L721.59,66.24 L721.74,66.40 L721.90,66.55 L722.05,66.70 L722.21,66.86 L722.36,67.01 L722.52,67.16 L722.67,67.32 L722.83,67.47 L722.98,67.63 L723.14,67.78 L723.29,67.94 L723.44,68.09 L723.60,68.25 L723.75,68.41 L723.90,68.56 L724.05,68.72 L724.21,68.88 L724.36,69.03 L724.51,69.19 L724.66,69.35 L724.81,69.50 L724.96,69.66 L725.11,69.82 L725.27,69.98 L725.42,70.14 L725.57,70.30 L725.72,70.46 L725.87,70.62 L726.02,70.77 L726.17,70.93 L726.31,71.09 L726.46,71.25 L726.61,71.42 L726.76,71.58 L726.91,71.74 L727.06,71.90 L727.21,72.06 L727.35,72.22 L727.50,72.38 L727.65,72.54 L727.80,72.71 L727.94,72.87 L728.09,73.03 L728.24,73.19 L728.38,73.36 L728.53,73.52 L728.67,73.68 L728.82,73.85 L728.96,74.01 L729.11,74.17 L729.25,74.34 L729.40,74.50 L729.54,74.67 L729.69,74.83 L729.83,75.00 L729.98,75.16 L730.12,75.33 L730.26,75.49 L730.41,75.66 L730.55,75.82 L730.69,75.99 L730.83,76.16 L730.98,76.32 L731.12,76.49 L731.26,76.65 L731.40,76.82 L731.54,76.99 L731.69,77.16 L731.83,77.32 L731.97,77.49 L732.11,77.66 L732.25,77.83 L732.39,77.99 L732.53,78.16 L732.67,78.33 L732.81,78.50 L732.95,78.67 L733.09,78.84 L733.23,79.01 L733.37,79.17 L733.51,79.34 L733.64,79.51 L733.78,79.68 L733.92,79.85 L734.06,80.02 L734.20,80.19 L734.33,80.36 L734.47,80.53 L734.61,80.70 L734.75,80.87 L734.88,81.04 L735.02,81.21 L735.16,81.39 L735.29,81.56 L735.43,81.73 L735.56,81.90 L735.70,82.07 L735.84,82.24 L735.97,82.41 L736.11,82.59 L736.24,82.76 L736.38,82.93 L736.51,83.10 L736.64,83.27 L736.78,83.45 L736.91,83.62 L737.05,83.79 L737.18,83.96 L737.31,84.14 L737.45,84.31 L737.58,84.48 L737.71,84.66 L737.84,84.83 L737.98,85.00 L738.11,85.18 L738.24,85.35 L738.37,85.52 L738.50,85.70 L738.63,85.87 L738.77,86.05 L738.90,86.22 L739.03,86.39 L739.16,86.57 L739.29,86.74 L739.42,86.92 L739.55,87.09 L739.68,87.27 L739.81,87.44 L739.94,87.62 L740.07,87.79 L740.20,87.97 L740.33,88.14 L740.46,88.32 L740.58,88.49 L740.71,88.67 L740.84,88.84 L740.97,89.02 L741.10,89.19 L741.22,89.37 L741.35,89.55 L741.48,89.72 L741.61,89.90 L741.73,90.07 L741.86,90.25 L741.99,90.42 L742.11,90.60 L742.24,90.78 L742.37,90.95 L742.49,91.13 L742.62,91.31 L742.74,91.48 L742.87,91.66 L742.99,91.84 L743.12,92.01 L743.24,92.19 L743.37,92.36 L743.49,92.54 L743.62,92.72 L743.74,92.89 L743.87,93.07 L743.99,93.25 L744.11,93.43 L744.24,93.60 L744.36,93.78 L744.48,93.96 L744.61,94.13 L744.73,94.31 L744.85,94.49 L744.97,94.66 L745.10,94.84 L745.22,95.02 L745.34,95.20 L745.46,95.37 L745.58,95.55 L745.71,95.73 L745.83,95.91 L745.95,96.08 L746.07,96.26 L746.19,96.44 L746.31,96.61 L746.43,96.79 L746.43,97.41 L746.68,97.86 L746.93,98.31 L747.18,98.77 L747.43,99.22 L747.68,99.68 L747.93,100.13 L748.18,100.59 L748.43,101.04 L748.68,101.50 L748.92,101.95 L749.17,102.41 L749.41,102.87 L749.66,103.32 L749.90,103.78 L750.15,104.24 L750.39,104.69 L750.63,105.15 L750.88,105.61 L751.12,106.07 L751.36,106.53 L751.60,106.98 L751.84,107.44 L752.08,107.90 L752.32,108.36 L752.56,108.82 L752.80,109.28 L753.04,109.74 L753.27,110.20 L753.51,110.66 L753.75,111.12 L753.98,111.58 L754.22,112.04 L754.45,112.50 L754.69,112.96 L754.92,113.43 L755.16,113.89 L755.39,114.35 L755.62,114.81 L755.85,115.27 L756.09,115.74 L756.32,116.20 L756.55,116.66 L756.78,117.13 L757.01,117.59 L757.24,118.05 L757.47,118.52 L757.70,118.98 L757.93,119.45 L758.15,119.91 L758.38,120.37 L758.61,120.84 L758.84,121.30 L759.06,121.77 L759.29,122.24 L759.51,122.70 L759.74,123.17 L759.96,123.63 L760.19,124.10 L760.41,124.56 L760.64,125.03 L760.86,125.50 L761.08,125.96 L761.30,126.43 L761.53,126.90 L761.75,127.37 L761.97,127.83 L762.19,128.30 L762.41,128.77 L762.63,129.24 L762.85,129.70 L763.07,130.17 L763.29,130.64 L763.51,131.11 L763.73,131.58 L763.95,132.05 L764.16,132.52 L764.38,132.99 L764.60,133.46 L764.81,133.92 L765.03,134.39 L765.25,134.86 L765.46,135.33 L765.68,135.80 L765.89,136.27 L766.11,136.74 L766.32,137.22 L766.54,137.69 L766.75,138.16 L766.96,138.63 L767.18,139.10 L767.39,139.57 L767.60,140.04 L767.82,140.51 L768.03,140.98 L768.24,141.46 L768.45,141.93 L768.66,142.40 L768.88,142.87 L769.09,143.34 L769.30,143.82 L769.51,144.29 L769.72,144.76 L769.93,145.23 L770.14,145.71 L770.35,146.18 L770.55,146.65 L770.76,147.13 L770.97,147.60 L771.18,148.07 L771.39,148.55 L771.60,149.02 L771.80,149.49 L772.01,149.97 L772.22,150.44 L772.43,150.92 L772.63,151.39 L772.84,151.86 L773.04,152.34 L773.25,152.81 L773.46,153.29 L773.66,153.76 L773.87,154.24 L774.07,154.71 L774.28,155.19 L774.48,155.66 L774.69,156.14 L774.89,156.61 L775.10,157.09 L775.30,157.56 L775.50,158.04 L775.71,158.51 L775.91,158.99 L776.12,159.46 L776.32,159.94 L776.52,160.41 L776.72,160.89 L776.93,161.37 L777.13,161.84 L777.33,162.32 L777.54,162.79 L777.74,163.27 L777.94,163.75 L778.14,164.22 L778.34,164.70 L778.54,165.18 L778.75,165.65 L778.95,166.13 L779.15,166.61 L779.35,167.08 L779.55,167.56 L779.75,168.04 L779.95,168.51 L780.15,168.99 L780.35,169.47 L780.56,169.94 L780.76,170.42 L780.96,170.90 L781.16,171.37 L781.36,171.85 L781.56,172.33 L781.76,172.80 L781.96,173.28 L782.16,173.76 L782.36,174.24 L782.56,174.71 L782.76,175.19 L782.95,175.67 L783.15,176.14 L783.35,176.62 L783.55,177.10 L783.75,177.58 L783.95,178.05 L784.15,178.53 L784.35,179.01 L784.55,179.49 L784.75,179.96 L784.95,180.44 L785.15,180.92 L785.35,181.40 L785.54,181.87 L785.74,182.35 L785.94,182.83 L786.14,183.31 L786.34,183.78 L786.54,184.26 L786.74,184.74 L786.94,185.22 L787.14,185.69 L787.33,186.17 L787.53,186.65 L787.73,187.13 L787.93,187.61 L788.13,188.08 L788.33,188.56 L788.53,189.04 L788.73,189.52 L788.93,189.99 L789.13,190.47 L789.32,190.95 L789.52,191.43 L789.72,191.90 L789.92,192.38 L790.12,192.86 L790.32,193.33 L790.52,193.81 L790.72,194.29 L790.92,194.77 L791.12,195.24 L791.32,195.72 L791.52,196.20 L791.72,196.68 L791.92,197.15 L792.12,197.63 L792.32,198.11 L792.52,198.58 L792.72,199.06 L792.92,199.54 L793.12,200.01 L793.32,200.49 L793.52,200.97 L793.72,201.44 L793.92,201.92 L794.12,202.40 L794.32,202.87 L794.52,203.35 L794.72,203.83 L794.92,204.30 L795.12,204.78 L795.33,205.26 L795.53,205.73 L795.73,206.21 L795.93,206.69 L796.13,207.16 L796.33,207.64 L796.54,208.11 L796.74,208.59 L796.94,209.06 L797.14,209.54 L797.35,210.02 L797.55,210.49 L797.75,210.97 L797.96,211.44 L798.16,211.92 L798.36,212.39 L798.57,212.87 L798.77,213.34 L798.98,213.82 L799.18,214.29 L799.38,214.77 L799.59,215.24 L799.79,215.72 L800.00,216.19 L800.20,216.67 L800.41,217.14 L800.61,217.62 L800.82,218.09 L801.03,218.56 L801.23,219.04 L801.44,219.51 L801.65,219.99 L801.85,220.46 L802.06,220.93 L802.27,221.41 L802.47,221.88 L802.68,222.35 L802.89,222.83 L803.10,223.30 L803.31,223.77 L803.52,224.25 L803.73,224.72 L803.93,225.19 L804.14,225.66 L804.35,226.14 L804.56,226.61 L804.77,227.08 L804.98,227.55 L805.20,228.02 L805.41,228.50 L805.62,228.97 L805.83,229.44 L806.04,229.91 L806.25,230.38 L806.47,230.85 L806.68,231.32 L806.89,231.79 L807.10,232.26 L807.32,232.74 L807.53,233.21 L807.75,233.68 L807.96,234.15 L808.18,234.62 L808.39,235.09 L808.61,235.56 L808.82,236.03 L809.04,236.49 L809.25,236.96 L809.47,237.43 L809.69,237.90 L809.91,238.37 L810.12,238.84 L810.34,239.31 L810.56,239.78 L810.78,240.24 L811.00,240.71 L811.22,241.18 L811.44,241.65 L811.66,242.11 L811.88,242.58 L812.10,243.05 L812.32,243.52 L812.54,243.98 L812.76,244.45 L812.99,244.92 L813.21,245.38 L813.43,245.85 L813.66,246.31 L813.88,246.78 L814.10,247.25 L814.33,247.71 L814.55,248.18 L814.78,248.64 L815.01,249.11 L815.23,249.57 L815.46,250.03 L815.69,250.50 L815.91,250.96 L816.14,251.43 L816.37,251.89 L816.60,252.35 L816.83,252.82 L817.06,253.28 L817.29,253.74 L817.52,254.21 L817.75,254.67 L817.98,255.13 L818.21,255.59 L818.44,256.05 L818.68,256.52 L818.91,256.98 L819.14,257.44 L819.38,257.90 L819.61,258.36 L819.85,258.82 L820.08,259.28 L820.32,259.74 L820.56,260.20 L820.79,260.66 L821.03,261.12 L821.27,261.58 L821.51,262.04 L821.74,262.50 L821.98,262.96 L822.22,263.41 L822.46,263.87 L822.71,264.33 L822.95,264.79 L823.19,265.24 L823.43,265.70 L823.67,266.16 L823.92,266.62 L824.16,267.07 L824.41,267.53 L824.65,267.98 L824.90,268.44 L825.14,268.90 L825.39,269.35 L825.64,269.81 L825.88,270.26 L826.13,270.71 L826.38,271.17 L826.63,271.62 L826.88,272.08 L827.13,272.53 L827.38,272.98 L827.63,273.44 L827.88,273.89 L828.14,274.34 L828.39,274.79 L828.64,275.24 L828.90,275.70 L829.15,276.15 L829.41,276.60 L829.66,277.05 L829.92,277.50 L830.18,277.95 L830.44,278.40 L830.69,278.85 L830.95,279.30 L831.21,279.75 L831.47,280.20 L831.73,280.64 L832.00,281.09 L832.26,281.54 L832.52,281.99 L832.78,282.44 L833.05,282.88 L833.31,283.33 L833.58,283.78 L839.60,309.10 L845.50,332.80" fill="none" stroke="#ff0000" stroke-width="2.5" stroke-linecap="round" stroke-linejoin="round"/>
<path d="M552.07,86.83 L552.38,86.92 L552.69,87.02 L553.00,87.12 L553.31,87.21 L553.62,87.31 L553.94,87.40 L554.25,87.50 L554.56,87.59 L554.87,87.69 L555.19,87.78 L555.50,87.88 L555.81,87.97 L556.12,88.06 L556.44,88.15 L556.75,88.25 L557.06,88.34 L557.38,88.43 L557.69,88.52 L558.00,88.61 L558.32,88.70 L558.63,88.79 L558.94,88.88 L559.26,88.97 L559.57,89.06 L559.89,89.15 L560.20,89.24 L560.51,89.33 L560.83,89.42 L561.14,89.50 L561.46,89.59 L561.77,89.68 L562.09,89.77 L562.40,89.85 L562.72,89.94 L563.04,90.03 L563.35,90.11 L563.67,90.20 L563.98,90.28 L564.30,90.37 L564.61,90.45 L564.93,90.54 L565.25,90.62 L565.56,90.70 L565.88,90.79 L566.20,90.87 L566.51,90.95 L566.83,91.04 L567.15,91.12 L567.46,91.20 L567.78,91.28 L568.10,91.37 L568.41,91.45 L568.73,91.53 L569.05,91.61 L569.37,91.69 L569.68,91.77 L570.00,91.85 L570.32,91.93 L570.64,92.01 L570.95,92.09 L571.27,92.17 L571.59,92.25 L571.91,92.33 L572.23,92.41 L572.55,92.49 L572.86,92.57 L573.18,92.65 L573.50,92.73 L573.82,92.80 L574.14,92.88 L574.46,92.96 L574.78,93.04 L575.09,93.12 L575.41,93.19 L575.73,93.27 L576.05,93.35 L576.37,93.42 L576.69,93.50 L577.01,93.58 L577.33,93.65 L577.65,93.73 L577.97,93.80 L578.29,93.88 L578.61,93.96 L578.93,94.03 L579.25,94.11 L579.57,94.18 L579.89,94.26 L580.21,94.33 L580.53,94.41 L580.85,94.48 L581.17,94.56 L581.49,94.63 L581.81,94.70 L582.13,94.78 L582.45,94.85 L582.77,94.93 L583.09,95.00 L583.41,95.07 L583.73,95.15 L584.05,95.22 L584.37,95.30 L584.69,95.37 L585.01,95.44 L585.33,95.51 L585.65,95.59 L585.97,95.66 L586.29,95.73 L586.61,95.81 L586.94,95.88 L587.26,95.95 L587.58,96.02 L587.90,96.10 L588.22,96.17 L588.54,96.24 L588.86,96.31 L589.18,96.39 L589.50,96.46 L589.82,96.53 L590.15,96.60 L590.47,96.68 L590.79,96.75 L591.11,96.82 L591.43,96.89 L591.75,96.96 L592.07,97.03 L592.39,97.11 L592.71,97.18 L593.04,97.25 L593.36,97.32 L593.68,97.39 L594.00,97.47 L594.32,97.54 L594.64,97.61 L594.96,97.68 L595.29,97.75 L595.61,97.82 L595.93,97.90 L596.25,97.97 L596.57,98.04 L596.89,98.11 L597.21,98.18 L597.53,98.25 L597.86,98.33 L598.18,98.40 L598.50,98.47 L598.82,98.54 L599.14,98.61 L599.46,98.68 L599.78,98.76 L600.11,98.83 L600.43,98.90 L600.75,98.97 L601.07,99.04 L601.39,99.12 L601.71,99.19 L602.03,99.26 L602.35,99.33 L602.68,99.41 L603.00,99.48 L603.32,99.55 L603.64,99.62 L603.96,99.70 L604.28,99.77 L604.60,99.84 L604.92,99.91 L605.24,99.99 L605.57,100.06 L605.89,100.13 L606.21,100.20 L606.53,100.28 L606.85,100.35 L607.17,100.42 L607.49,100.50 L607.81,100.57 L608.13,100.65 L608.45,100.72 L608.77,100.79 L609.09,100.87 L609.42,100.94 L609.74,101.02 L610.06,101.09 L610.38,101.16 L610.70,101.24 L611.02,101.31 L611.34,101.39 L611.66,101.46 L611.98,101.54 L612.30,101.61 L612.62,101.69 L612.94,101.76 L613.26,101.84 L613.58,101.92 L613.90,101.99 L614.22,102.07 L614.54,102.14 L614.86,102.22 L615.18,102.30 L615.50,102.37 L615.82,102.45 L616.14,102.53 L616.46,102.61 L616.78,102.68 L617.10,102.76 L617.41,102.84 L617.73,102.92 L618.05,102.99 L618.37,103.07 L618.69,103.15 L619.01,103.23 L619.33,103.31 L619.65,103.39 L619.97,103.47 L620.29,103.55 L620.60,103.63 L620.92,103.71 L621.24,103.79 L621.56,103.87 L621.88,103.95 L622.20,104.03 L622.51,104.11 L622.83,104.19 L623.15,104.27 L623.47,104.35 L623.79,104.44 L624.10,104.52 L624.42,104.60 L624.74,104.68 L625.06,104.77 L625.37,104.85 L625.69,104.93 L626.01,105.02 L626.32,105.10 L626.64,105.19 L626.96,105.27 L627.27,105.36 L627.59,105.44 L627.91,105.53 L628.22,105.61 L628.54,105.70 L628.86,105.78 L629.17,105.87 L629.49,105.96 L629.81,106.04 L630.12,106.13 L630.44,106.22 L630.75,106.31 L631.07,106.40 L631.38,106.48 L631.70,106.57 L632.01,106.66 L632.33,106.75 L632.64,106.84 L632.96,106.93 L633.27,107.02 L633.59,107.11 L633.90,107.20 L634.22,107.29 L634.53,107.39 L634.84,107.48 L635.16,107.57 L635.47,107.66 L635.79,107.76 L636.10,107.85 L636.41,107.94 L636.73,108.04 L637.04,108.13 L637.35,108.23 L637.67,108.32 L637.98,108.42 L638.29,108.51 L638.60,108.61 L638.92,108.71 L639.23,108.80 L639.54,108.90 L639.85,109.00 L640.16,109.10 L640.48,109.19 L640.79,109.29 L641.10,109.39 L641.41,109.49 L641.72,109.59 L642.03,109.69 L642.34,109.79 L642.65,109.89 L642.96,110.00 L643.28,110.10 L643.59,110.20 L643.90,110.30 L644.21,110.41 L644.52,110.51 L644.82,110.61 L645.13,110.72 L645.44,110.82 L645.75,110.93 L646.06,111.03 L646.37,111.14 L646.68,111.25 L646.99,111.35 L647.30,111.46 L647.60,111.57 L647.91,111.68 L648.22,111.79 L648.53,111.90 L648.84,112.01 L649.14,112.12 L649.45,112.23 L649.76,112.34 L650.06,112.45 L650.37,112.56 L650.68,112.68 L650.98,112.79 L651.29,112.90 L651.60,113.02 L651.90,113.13 L652.21,113.25 L652.51,113.36 L652.82,113.48 L653.12,113.59 L653.43,113.71 L653.73,113.83 L654.04,113.95 L654.34,114.06 L654.64,114.18 L654.95,114.30 L655.25,114.42 L655.56,114.54 L655.86,114.66 L656.16,114.78 L656.46,114.91 L656.77,115.03 L657.07,115.15 L657.37,115.28 L657.67,115.40 L657.98,115.52 L658.28,115.65 L658.58,115.78 L658.88,115.90 L659.18,116.03 L659.48,116.16 L659.78,116.28 L660.08,116.41 L660.38,116.54 L660.68,116.67 L660.98,116.80 L661.28,116.93 L661.58,117.06 L661.88,117.20 L662.18,117.33 L662.48,117.46 L662.78,117.60 L663.08,117.73 L663.38,117.86 L663.67,118.00 L663.97,118.14 L664.27,118.27 L664.57,118.41 L664.86,118.55 L665.16,118.69 L665.46,118.82 L665.75,118.96 L666.05,119.10 L666.35,119.25 L666.64,119.39 L666.94,119.53 L667.23,119.67 L667.53,119.81 L667.82,119.96 L668.12,120.10 L668.41,120.25 L668.70,120.39 L669.00,120.54 L669.29,120.69 L669.58,120.84 L669.88,120.98 L670.17,121.13 L670.46,121.28 L670.76,121.43 L671.05,121.58 L671.34,121.74 L671.63,121.89 L671.92,122.04 L672.21,122.19 L672.50,122.35 L672.79,122.50 L673.09,122.66 L673.38,122.82 L673.66,122.97 L673.95,123.13 L674.24,123.29 L674.53,123.45 L674.82,123.61 L675.11,123.77 L675.40,123.93 L675.69,124.09 L675.97,124.25 L676.26,124.42 L676.55,124.58 L676.84,124.75 L677.27,126.69 L677.91,127.09 L678.54,127.50 L679.17,127.90 L679.80,128.31 L680.42,128.72 L681.04,129.13 L681.67,129.54 L682.28,129.95 L682.90,130.37 L683.52,130.78 L684.13,131.20 L684.74,131.62 L685.35,132.04 L685.96,132.47 L686.57,132.89 L687.17,133.32 L687.77,133.75 L688.37,134.18 L688.97,134.61 L689.57,135.04 L690.16,135.48 L690.75,135.91 L691.34,136.35 L691.93,136.79 L692.52,137.23 L693.10,137.67 L693.69,138.12 L694.27,138.56 L694.85,139.01 L695.43,139.46 L696.00,139.91 L696.58,140.36 L697.15,140.82 L697.72,141.27 L698.29,141.73 L698.86,142.19 L699.42,142.65 L699.99,143.11 L700.55,143.57 L701.11,144.03 L701.67,144.50 L702.22,144.97 L702.78,145.43 L703.33,145.90 L703.88,146.38 L704.43,146.85 L704.98,147.32 L705.53,147.80 L706.07,148.28 L706.62,148.75 L707.16,149.23 L707.70,149.72 L708.24,150.20 L708.77,150.68 L709.31,151.17 L709.84,151.66 L710.37,152.14 L710.90,152.63 L711.43,153.12 L711.96,153.62 L712.49,154.11 L713.01,154.61 L713.53,155.10 L714.05,155.60 L714.57,156.10 L715.09,156.60 L715.61,157.10 L716.12,157.60 L716.63,158.11 L717.15,158.61 L717.66,159.12 L718.16,159.63 L718.67,160.14 L719.18,160.65 L719.68,161.16 L720.18,161.68 L720.68,162.19 L721.18,162.71 L721.68,163.22 L722.18,163.74 L722.68,164.26 L723.17,164.78 L723.66,165.30 L724.15,165.83 L724.64,166.35 L725.13,166.88 L725.62,167.40 L726.10,167.93 L726.59,168.46 L727.07,168.99 L727.55,169.52 L728.03,170.05 L728.51,170.59 L728.99,171.12 L729.46,171.66 L729.94,172.20 L730.41,172.73 L730.88,173.27 L731.36,173.81 L731.82,174.36 L732.29,174.90 L732.76,175.44 L733.23,175.99 L733.69,176.53 L734.15,177.08 L734.61,177.63 L735.08,178.18 L735.53,178.73 L735.99,179.28 L736.45,179.83 L736.91,180.38 L737.36,180.94 L737.81,181.49 L738.26,182.05 L738.72,182.61 L739.17,183.16 L739.61,183.72 L740.06,184.28 L740.51,184.84 L740.95,185.41 L741.40,185.97 L741.84,186.53 L742.28,187.10 L742.72,187.66 L743.16,188.23 L743.60,188.80 L744.04,189.37 L744.47,189.94 L744.91,190.51 L745.34,191.08 L745.77,191.65 L746.21,192.23 L746.64,192.80 L747.07,193.37 L747.49,193.95 L747.92,194.53 L748.35,195.11 L748.77,195.68 L749.20,196.26 L749.62,196.84 L750.04,197.42 L750.47,198.01 L750.89,198.59 L751.31,199.17 L751.72,199.76 L752.14,200.34 L752.56,200.93 L752.97,201.51 L753.39,202.10 L753.80,202.69 L754.21,203.28 L754.63,203.87 L755.04,204.46 L755.45,205.05 L755.86,205.64 L756.26,206.24 L756.67,206.83 L757.08,207.42 L757.48,208.02 L757.89,208.61 L758.29,209.21 L758.70,209.81 L759.10,210.41 L759.50,211.00 L759.90,211.60 L760.30,212.20 L760.70,212.80 L761.10,213.41 L761.49,214.01 L761.89,214.61 L762.29,215.21 L762.68,215.82 L763.08,216.42 L763.47,217.03 L763.86,217.63 L764.25,218.24 L764.64,218.84 L765.04,219.45 L765.42,220.06 L765.81,220.67 L766.20,221.28 L766.59,221.89 L766.98,222.50 L767.36,223.11 L767.75,223.72 L768.13,224.33 L768.52,224.95 L768.90,225.56 L769.28,226.17 L769.67,226.79 L770.05,227.40 L770.43,228.02 L770.81,228.63 L771.19,229.25 L771.57,229.86 L771.95,230.48 L772.32,231.10 L772.70,231.72 L773.08,232.34 L773.45,232.95 L773.83,233.57 L774.20,234.19 L774.58,234.81 L774.95,235.43 L775.33,236.06 L775.70,236.68 L776.07,237.30 L776.44,237.92 L776.81,238.54 L777.18,239.17 L777.55,239.79 L777.92,240.42 L778.29,241.04 L778.66,241.66 L779.03,242.29 L779.40,242.91 L779.77,243.54 L780.13,244.17 L780.50,244.79 L780.87,245.42 L781.23,246.05 L781.60,246.67 L781.96,247.30 L782.33,247.93 L782.69,248.56 L783.05,249.19 L783.42,249.82 L783.78,250.44 L784.14,251.07 L784.50,251.70 L784.87,252.33 L785.23,252.96 L785.59,253.59 L785.95,254.22 L786.31,254.86 L786.67,255.49 L787.03,256.12 L787.39,256.75 L787.75,257.38 L788.11,258.01 L788.47,258.64 L788.82,259.28 L789.18,259.91 L789.54,260.54 L789.90,261.17 L790.26,261.81 L790.61,262.44 L790.97,263.07 L791.33,263.71 L791.68,264.34 L792.04,264.97 L792.40,265.61 L792.75,266.24 L793.11,266.88 L793.46,267.51 L793.82,268.14 L794.17,268.78 L794.53,269.41 L794.88,270.05 L795.24,270.68 L795.59,271.32 L795.95,271.95 L796.30,272.59 L796.66,273.22 L797.01,273.86 L797.36,274.49 L797.72,275.12 L798.07,275.76 L798.43,276.39 L798.78,277.03 L799.13,277.66 L799.49,278.30 L799.84,278.93 L800.19,279.57 L800.55,280.20 L800.90,280.84 L801.26,281.47 L801.61,282.11 L801.96,282.74 L802.32,283.38 L802.67,284.01 L803.02,284.65 L803.38,285.28 L803.73,285.91 L804.08,286.55 L804.44,287.18 L804.79,287.82 L805.14,288.45 L805.50,289.08 L805.85,289.72 L806.21,290.35 L806.56,290.98 L806.91,291.62 L807.27,292.25 L807.62,292.88 L807.98,293.52 L808.33,294.15 L808.69,294.78 L809.04,295.41 L809.40,296.04 L809.75,296.68 L810.11,297.31 L810.46,297.94 L810.82,298.57 L811.17,299.20 L811.53,299.83 L811.89,300.46 L812.24,301.09 L812.60,301.72 L812.96,302.35 L813.31,302.98 L813.67,303.61 L814.03,304.24 L814.39,304.87 L814.75,305.50 L815.10,306.12 L815.46,306.75 L815.82,307.38 L816.18,308.01 L816.54,308.63 L816.90,309.26 L817.26,309.89 L817.62,310.51 L817.98,311.14 L818.34,311.76 L818.70,312.39 L819.07,313.01 L819.43,313.64 L819.79,314.26 L820.15,314.88 L820.52,315.51 L820.88,316.13 L821.24,316.75 L821.61,317.37 L821.97,317.99 L822.34,318.61 L822.70,319.24 L823.07,319.86 L823.44,320.47 L823.80,321.09 L824.17,321.71 L824.54,322.33 L824.91,322.95 L825.28,323.57 L825.64,324.18 L826.01,324.80 L826.38,325.41 L826.76,326.03 L827.13,326.64 L827.50,327.26 L827.87,327.87 L828.24,328.49 L828.62,329.10 L828.99,329.71 L829.36,330.32 L829.74,330.93 L830.11,331.54 L830.49,332.15 L830.87,332.76 L831.24,333.37 L831.62,333.98 L832.00,334.59 L832.38,335.20 L832.76,335.80 L833.14,336.41 L833.52,337.01 L833.90,337.62 L834.28,338.22 L834.67,338.82 L835.05,339.43 L835.43,340.03 L835.82,340.63 L836.20,341.23 L836.59,341.83 L836.98,342.43 L837.36,343.03 L837.75,343.63 L838.14,344.22 L838.53,344.82 L838.92,345.42 L839.31,346.01 L839.70,346.61 L840.10,347.20 L840.49,347.79 L840.88,348.39 L841.28,348.98 L841.67,349.57 L842.07,350.16 L842.47,350.75 L842.87,351.34 L843.26,351.92 L843.66,352.51 L844.06,353.10 L844.47,353.68 L844.87,354.27 L845.27,354.85 L845.67,355.43 L846.08,356.02 L846.48,356.60 L846.90,356.26 L847.13,356.52 L847.35,356.78 L847.58,357.04 L847.81,357.30 L848.03,357.56 L848.26,357.81 L848.49,358.07 L848.72,358.33 L848.95,358.58 L849.18,358.83 L849.42,359.08 L849.65,359.33 L849.88,359.58 L850.12,359.83 L850.35,360.08 L850.59,360.32 L850.82,360.57 L851.06,360.81 L851.30,361.06 L851.53,361.30 L851.77,361.54 L852.01,361.78 L852.25,362.02 L852.49,362.26 L852.73,362.49 L852.97,362.73 L853.21,362.97 L853.46,363.20 L853.70,363.43 L853.94,363.66 L854.19,363.90 L854.43,364.13 L854.68,364.35 L854.93,364.58 L855.17,364.81 L855.42,365.04 L855.67,365.26 L855.92,365.48 L856.17,365.71 L856.42,365.93 L856.67,366.15 L856.92,366.37 L857.17,366.59 L857.42,366.81 L857.67,367.02 L857.93,367.24 L858.18,367.46 L858.44,367.67 L858.69,367.88 L858.95,368.09 L859.20,368.31 L859.46,368.52 L859.72,368.73 L859.97,368.93 L860.23,369.14 L860.49,369.35 L860.75,369.55 L861.01,369.76 L861.27,369.96 L861.53,370.16 L861.79,370.37 L862.06,370.57 L862.32,370.77 L862.58,370.97 L862.84,371.16 L863.11,371.36 L863.37,371.56 L863.64,371.75 L863.91,371.95 L864.17,372.14 L864.44,372.33 L864.71,372.53 L864.97,372.72 L865.24,372.91 L865.51,373.09 L865.78,373.28 L866.05,373.47 L866.32,373.66 L866.59,373.84 L866.86,374.03 L867.14,374.21 L867.41,374.39 L867.68,374.57 L867.95,374.75 L868.23,374.93 L868.50,375.11 L868.78,375.29 L869.05,375.47 L869.33,375.65 L869.60,375.82 L869.88,376.00 L870.16,376.17 L870.44,376.34 L870.71,376.52 L870.99,376.69 L871.27,376.86 L871.55,377.03 L871.83,377.20 L872.11,377.36 L872.39,377.53 L872.68,377.70 L872.96,377.86 L873.24,378.03 L873.52,378.19 L873.81,378.35 L874.09,378.52 L874.37,378.68 L874.66,378.84 L874.94,379.00 L875.23,379.16 L875.51,379.31 L875.80,379.47 L876.09,379.63 L876.37,379.78 L876.66,379.94 L876.95,380.09 L877.24,380.24 L877.53,380.40 L877.82,380.55 L878.11,380.70 L878.40,380.85 L878.69,381.00 L878.98,381.15 L879.27,381.29 L879.56,381.44 L879.85,381.59 L880.15,381.73 L880.44,381.87 L880.73,382.02 L881.03,382.16 L881.32,382.30 L881.61,382.44 L881.91,382.59 L882.20,382.72 L882.50,382.86 L882.80,383.00 L883.09,383.14 L883.39,383.28 L883.69,383.41 L883.98,383.55 L884.28,383.68 L884.58,383.81 L884.88,383.95 L885.18,384.08 L885.48,384.21 L885.78,384.34 L886.08,384.47 L886.38,384.60 L886.68,384.73 L886.98,384.86 L887.28,384.98 L887.58,385.11 L887.89,385.24 L888.19,385.36 L888.49,385.49 L888.79,385.61 L889.10,385.73 L889.40,385.85 L889.71,385.97 L890.01,386.10 L890.32,386.22 L890.62,386.33 L890.93,386.45 L891.23,386.57 L891.54,386.69 L891.85,386.80 L892.15,386.92 L892.46,387.03 L892.77,387.15 L893.07,387.26 L893.38,387.38 L893.69,387.49 L894.00,387.60 L894.31,387.71 L894.62,387.82 L894.93,387.93 L895.24,388.04 L895.55,388.15 L895.86,388.26 L896.17,388.36 L896.48,388.47 L896.79,388.57 L897.10,388.68 L897.41,388.78 L897.73,388.89 L898.04,388.99 L898.35,389.09 L898.66,389.19 L898.98,389.30 L899.29,389.40 L899.60,389.50 L899.92,389.59 L900.23,389.69 L900.55,389.79 L900.86,389.89 L901.18,389.99 L901.49,390.08 L901.81,390.18 L902.12,390.27 L902.44,390.37 L902.76,390.46 L903.07,390.55 L903.39,390.65 L903.71,390.74 L904.02,390.83 L904.34,390.92 L904.66,391.01 L904.98,391.10 L905.30,391.19 L905.61,391.28 L905.93,391.36 L906.25,391.45 L906.57,391.54 L906.89,391.62 L907.21,391.71 L907.53,391.79 L907.85,391.88 L908.17,391.96 L908.49,392.04 L908.81,392.13 L909.13,392.21 L909.45,392.29 L909.77,392.37 L910.09,392.45 L910.41,392.53 L910.74,392.61 L911.06,392.69 L911.38,392.77 L911.70,392.84 L912.03,392.92 L912.35,393.00 L912.67,393.07 L912.99,393.15 L913.32,393.22 L913.64,393.30 L913.96,393.37 L914.29,393.44 L914.61,393.52 L914.93,393.59 L915.26,393.66 L915.58,393.73 L915.91,393.80 L916.23,393.87 L916.56,393.94 L916.88,394.01 L917.21,394.08 L917.53,394.15 L917.86,394.22 L918.18,394.28 L918.51,394.35 L918.83,394.42 L919.16,394.48 L919.49,394.55 L919.81,394.61 L920.14,394.67 L920.47,394.74 L920.79,394.80 L921.12,394.86 L921.45,394.93 L921.77,394.99 L922.10,395.05 L922.43,395.11 L922.75,395.17 L923.08,395.23 L923.41,395.29 L923.74,395.35 L924.06,395.41 L924.39,395.47 L924.72,395.52 L925.05,395.58 L925.38,395.64 L925.70,395.69 L926.03,395.75 L926.36,395.80 L926.69,395.86 L927.02,395.91 L927.35,395.97 L927.67,396.02 L928.00,396.07 L928.33,396.13 L928.66,396.18 L928.99,396.23 L929.32,396.28 L929.65,396.33 L929.98,396.39 L930.31,396.44 L930.64,396.49 L930.97,396.53 L931.29,396.58 L931.62,396.63 L931.95,396.68 L932.28,396.73 L932.61,396.78 L932.94,396.82 L933.27,396.87 L933.60,396.92 L933.93,396.96 L934.26,397.01 L934.59,397.05 L934.92,397.10 L935.25,397.14 L935.58,397.19 L935.91,397.23 L936.24,397.27 L936.57,397.32 L936.90,397.36 L937.23,397.40 L937.56,397.44 L937.89,397.48 L938.22,397.52 L938.55,397.57 L938.88,397.61 L939.21,397.65 L939.54,397.69 L939.87,397.72 L940.20,397.76 L940.53,397.80 L940.86,397.84 L941.19,397.88 L941.52,397.92 L941.85,397.95 L942.18,397.99 L942.51,398.03 L942.84,398.06 L943.17,398.10 L943.50,398.14 L943.83,398.17 L944.16,398.21 L944.49,398.24 L944.82,398.28 L945.15,398.31 L945.48,398.34 L945.81,398.38 L946.14,398.41 L946.47,398.44 L946.80,398.48 L947.13,398.51 L947.46,398.54 L947.79,398.57 L948.12,398.60 L948.45,398.63 L948.78,398.67 L949.11,398.70 L949.44,398.73 L949.77,398.76 L950.10,398.79 L950.43,398.82 L950.76,398.85 L951.08,398.87 L951.41,398.90 L951.74,398.93 L952.07,398.96 L952.40,398.99 L952.73,399.02 L953.06,399.04 L953.38,399.07 L953.71,399.10 L954.04,399.12 L954.37,399.15 L954.70,399.18 L955.03,399.20 L955.35,399.23 L955.68,399.25 L956.01,399.28 L956.34,399.30 L956.66,399.33 L956.99,399.35 L957.32,399.38 L957.65,399.40 L957.97,399.43 L958.30,399.45 L958.63,399.47 L958.95,399.50 L959.28,399.52 L959.61,399.54 L959.93,399.57 L960.26,399.59 L960.58,399.61 L960.91,399.63 L961.24,399.66 L961.56,399.68 L961.89,399.70 L962.21,399.72 L962.54,399.74 L962.86,399.76 L963.19,399.78 L963.51,399.80 L963.84,399.82 L964.16,399.85 L964.49,399.87 L964.81,399.89 L965.13,399.91 L965.46,399.92 L965.78,399.94 L966.10,399.96 L966.43,399.98 L966.75,400.00 L967.07,400.02 L967.40,400.04" fill="none" stroke="#7f00ff" stroke-width="2.5" stroke-linecap="round" stroke-linejoin="round"/>
<path d="M552.02,117.66 L552.36,117.62 L552.70,117.58 L553.04,117.54 L553.38,117.50 L553.72,117.46 L554.05,117.42 L554.39,117.38 L554.73,117.35 L555.07,117.31 L555.41,117.28 L555.75,117.25 L556.09,117.22 L556.42,117.19 L556.76,117.16 L557.10,117.13 L557.44,117.10 L557.78,117.08 L558.12,117.05 L558.45,117.03 L558.79,117.00 L559.13,116.98 L559.47,116.96 L559.81,116.94 L560.14,116.92 L560.48,116.90 L560.82,116.89 L561.16,116.87 L561.50,116.86 L561.83,116.84 L562.17,116.83 L562.51,116.82 L562.85,116.81 L563.18,116.80 L563.52,116.79 L563.86,116.78 L564.20,116.77 L564.54,116.77 L564.87,116.76 L565.21,116.76 L565.55,116.75 L565.88,116.75 L566.22,116.75 L566.56,116.75 L566.90,116.75 L567.23,116.75 L567.57,116.76 L567.91,116.76 L568.25,116.76 L568.58,116.77 L568.92,116.78 L569.26,116.78 L569.59,116.79 L569.93,116.80 L570.27,116.81 L570.60,116.82 L570.94,116.84 L571.28,116.85 L571.61,116.86 L571.95,116.88 L572.28,116.89 L572.62,116.91 L572.96,116.93 L573.29,116.95 L573.63,116.97 L573.97,116.99 L574.30,117.01 L574.64,117.03 L574.97,117.05 L575.31,117.08 L575.64,117.10 L575.98,117.13 L576.32,117.16 L576.65,117.18 L576.99,117.21 L577.32,117.24 L577.66,117.27 L577.99,117.31 L578.33,117.34 L578.66,117.37 L579.00,117.40 L579.33,117.44 L579.67,117.48 L580.00,117.51 L580.34,117.55 L580.67,117.59 L581.00,117.63 L581.34,117.67 L581.67,117.71 L582.01,117.75 L582.34,117.79 L582.68,117.84 L583.01,117.88 L583.34,117.93 L583.68,117.97 L584.01,118.02 L584.34,118.07 L584.68,118.12 L585.01,118.16 L585.34,118.22 L585.68,118.27 L586.01,118.32 L586.34,118.37 L586.68,118.42 L587.01,118.48 L587.34,118.53 L587.67,118.59 L588.01,118.65 L588.34,118.70 L588.67,118.76 L589.00,118.82 L589.33,118.88 L589.67,118.94 L590.00,119.00 L590.33,119.07 L590.66,119.13 L590.99,119.19 L591.32,119.26 L591.66,119.33 L591.99,119.39 L592.32,119.46 L592.65,119.53 L592.98,119.60 L593.31,119.66 L593.64,119.74 L593.97,119.81 L594.30,119.88 L594.63,119.95 L594.96,120.02 L595.29,120.10 L595.62,120.17 L595.95,120.25 L596.28,120.32 L596.61,120.40 L596.94,120.48 L597.27,120.56 L597.60,120.64 L597.93,120.72 L598.26,120.80 L598.58,120.88 L598.91,120.96 L599.24,121.05 L599.57,121.13 L599.90,121.21 L600.23,121.30 L600.55,121.38 L600.88,121.47 L601.21,121.56 L601.54,121.65 L601.86,121.74 L602.19,121.83 L602.52,121.92 L602.85,122.01 L603.17,122.10 L603.50,122.19 L603.83,122.28 L604.15,122.38 L604.48,122.47 L604.80,122.57 L605.13,122.66 L605.46,122.76 L605.78,122.86 L606.11,122.95 L606.43,123.05 L606.76,123.15 L607.08,123.25 L607.41,123.35 L607.73,123.45 L608.06,123.55 L608.38,123.66 L608.71,123.76 L609.03,123.86 L609.35,123.97 L609.68,124.07 L610.00,124.18 L610.33,124.28 L610.65,124.39 L610.97,124.50 L611.29,124.61 L611.62,124.72 L611.94,124.83 L612.26,124.94 L612.59,125.05 L612.91,125.16 L613.23,125.27 L613.55,125.38 L613.87,125.50 L614.19,125.61 L614.52,125.73 L614.84,125.84 L615.16,125.96 L615.48,126.07 L615.80,126.19 L616.12,126.31 L616.44,126.42 L616.76,126.54 L617.08,126.66 L617.40,126.78 L617.72,126.90 L618.04,127.02 L618.36,127.15 L618.68,127.27 L619.00,127.39 L619.32,127.51 L619.63,127.64 L619.95,127.76 L620.27,127.89 L620.59,128.01 L620.91,128.14 L621.22,128.27 L621.54,128.39 L621.86,128.52 L622.18,128.65 L622.49,128.78 L622.81,128.91 L623.13,129.04 L623.44,129.17 L623.76,129.30 L624.07,129.43 L624.39,129.57 L624.70,129.70 L625.02,129.83 L625.34,129.97 L625.65,130.10 L625.96,130.24 L626.28,130.37 L626.59,130.51 L626.91,130.64 L627.22,130.78 L627.54,130.92 L627.85,131.06 L628.16,131.20 L628.47,131.33 L628.79,131.47 L629.10,131.61 L629.41,131.75 L629.73,131.90 L630.04,132.04 L630.35,132.18 L630.66,132.32 L630.97,132.47 L631.28,132.61 L631.59,132.75 L631.90,132.90 L632.22,133.04 L632.53,133.19 L632.84,133.33 L633.15,133.48 L633.45,133.63 L633.76,133.77 L634.07,133.92 L634.38,134.07 L634.69,134.22 L635.00,134.37 L635.31,134.52 L635.62,134.67 L635.92,134.82 L636.23,134.97 L636.54,135.12 L636.85,135.27 L637.15,135.42 L637.46,135.58 L637.77,135.73 L638.07,135.88 L638.38,136.04 L638.68,136.19 L638.99,136.35 L639.29,136.50 L639.60,136.66 L639.90,136.81 L640.21,136.97 L640.51,137.13 L640.82,137.29 L641.12,137.44 L641.42,137.60 L641.73,137.76 L642.03,137.92 L642.33,138.08 L642.64,138.24 L642.94,138.40 L643.24,138.56 L643.54,138.72 L643.84,138.88 L644.15,139.04 L644.45,139.20 L644.75,139.37 L645.05,139.53 L645.35,139.69 L645.65,139.86 L645.95,140.02 L646.25,140.18 L646.55,140.35 L646.85,140.51 L647.15,140.68 L647.44,140.84 L647.74,141.01 L648.04,141.18 L648.34,141.34 L648.64,141.51 L648.93,141.68 L649.23,141.85 L649.53,142.01 L649.82,142.18 L650.12,142.35 L650.42,142.52 L650.71,142.69 L651.01,142.86 L651.30,143.03 L651.60,143.20 L651.89,143.37 L652.19,143.54 L652.48,143.71 L652.77,143.88 L653.07,144.06 L653.36,144.23 L653.65,144.40 L653.95,144.57 L654.24,144.75 L654.53,144.92 L654.82,145.09 L655.11,145.27 L655.40,145.44 L655.70,145.62 L655.99,145.79 L656.28,145.97 L656.57,146.14 L656.86,146.32 L657.15,146.49 L657.44,146.67 L657.72,146.85 L658.01,147.02 L658.30,147.20 L658.59,147.38 L658.88,147.55 L659.16,147.73 L659.45,147.91 L659.74,148.09 L660.03,148.27 L660.31,148.44 L660.60,148.62 L660.88,148.80 L661.17,148.98 L661.45,149.16 L661.74,149.34 L662.02,149.52 L662.31,149.70 L662.59,149.88 L662.87,150.06 L663.16,150.25 L663.44,150.43 L663.72,150.61 L664.01,150.79 L664.29,150.97 L664.57,151.15 L664.85,151.34 L665.13,151.52 L665.41,151.70 L665.69,151.88 L665.97,152.07 L666.25,152.25 L666.53,152.43 L666.81,152.62 L667.09,152.80 L667.37,152.99 L667.65,153.17 L667.93,153.36 L668.20,153.54 L668.48,153.72 L668.76,153.91 L669.04,154.09 L669.31,154.28 L669.59,154.47 L669.86,154.65 L670.14,154.84 L670.41,155.02 L670.69,155.21 L670.96,155.40 L671.24,155.58 L671.51,155.77 L671.79,155.95 L672.06,156.14 L672.33,156.33 L672.60,156.52 L672.88,156.70 L673.15,156.89 L673.42,157.08 L673.69,157.27 L673.96,157.45 L674.23,157.64 L674.50,157.83 L674.77,158.02 L675.04,158.21 L675.31,158.39 L675.58,158.58 L675.85,158.77 L676.11,158.96 L676.38,159.15 L676.65,159.34 L676.92,159.53 L677.18,159.71 L677.96,162.26 L678.46,162.68 L678.95,163.11 L679.45,163.53 L679.94,163.96 L680.44,164.39 L680.93,164.81 L681.42,165.24 L681.92,165.67 L682.41,166.11 L682.90,166.54 L683.38,166.97 L683.87,167.40 L684.36,167.84 L684.85,168.27 L685.33,168.71 L685.82,169.14 L686.30,169.58 L686.78,170.02 L687.26,170.46 L687.74,170.90 L688.22,171.34 L688.70,171.78 L689.18,172.22 L689.66,172.66 L690.14,173.11 L690.61,173.55 L691.09,173.99 L691.56,174.44 L692.03,174.89 L692.51,175.33 L692.98,175.78 L693.45,176.23 L693.92,176.68 L694.39,177.13 L694.86,177.58 L695.32,178.03 L695.79,178.48 L696.26,178.93 L696.72,179.39 L697.19,179.84 L697.65,180.29 L698.11,180.75 L698.58,181.21 L699.04,181.66 L699.50,182.12 L699.96,182.58 L700.42,183.04 L700.87,183.50 L701.33,183.96 L701.79,184.42 L702.25,184.88 L702.70,185.34 L703.15,185.80 L703.61,186.27 L704.06,186.73 L704.51,187.20 L704.96,187.66 L705.42,188.13 L705.87,188.59 L706.31,189.06 L706.76,189.53 L707.21,190.00 L707.66,190.47 L708.10,190.94 L708.55,191.41 L709.00,191.88 L709.44,192.35 L709.88,192.82 L710.33,193.29 L710.77,193.77 L711.21,194.24 L711.65,194.72 L712.09,195.19 L712.53,195.67 L712.97,196.14 L713.41,196.62 L713.84,197.10 L714.28,197.58 L714.72,198.06 L715.15,198.54 L715.59,199.02 L716.02,199.50 L716.45,199.98 L716.89,200.46 L717.32,200.94 L717.75,201.42 L718.18,201.91 L718.61,202.39 L719.04,202.88 L719.47,203.36 L719.90,203.85 L720.33,204.33 L720.75,204.82 L721.18,205.31 L721.61,205.80 L722.03,206.28 L722.45,206.77 L722.88,207.26 L723.30,207.75 L723.72,208.24 L724.15,208.73 L724.57,209.23 L724.99,209.72 L725.41,210.21 L725.83,210.70 L726.25,211.20 L726.67,211.69 L727.09,212.18 L727.50,212.68 L727.92,213.18 L728.34,213.67 L728.75,214.17 L729.17,214.66 L729.58,215.16 L730.00,215.66 L730.41,216.16 L730.82,216.66 L731.24,217.16 L731.65,217.66 L732.06,218.16 L732.47,218.66 L732.88,219.16 L733.29,219.66 L733.70,220.16 L734.11,220.67 L734.52,221.17 L734.92,221.67 L735.33,222.18 L735.74,222.68 L736.15,223.18 L736.55,223.69 L736.96,224.20 L737.36,224.70 L737.77,225.21 L738.17,225.71 L738.57,226.22 L738.98,226.73 L739.38,227.24 L739.78,227.75 L740.18,228.26 L740.58,228.76 L740.98,229.27 L741.38,229.78 L741.78,230.29 L742.18,230.81 L742.58,231.32 L742.98,231.83 L743.38,232.34 L743.77,232.85 L744.17,233.37 L744.57,233.88 L744.96,234.39 L745.36,234.91 L745.75,235.42 L746.15,235.94 L746.54,236.45 L746.94,236.97 L747.33,237.48 L747.72,238.00 L748.12,238.51 L748.51,239.03 L748.90,239.55 L749.29,240.07 L749.68,240.58 L750.07,241.10 L750.46,241.62 L750.85,242.14 L751.24,242.66 L751.63,243.18 L752.02,243.70 L752.41,244.22 L752.80,244.74 L753.19,245.26 L753.57,245.78 L753.96,246.30 L754.35,246.82 L754.73,247.34 L755.12,247.87 L755.51,248.39 L755.89,248.91 L756.28,249.43 L756.66,249.96 L757.04,250.48 L757.43,251.00 L757.81,251.53 L758.20,252.05 L758.58,252.58 L758.96,253.10 L759.34,253.63 L759.73,254.15 L760.11,254.68 L760.49,255.20 L760.87,255.73 L761.25,256.26 L761.63,256.78 L762.01,257.31 L762.39,257.84 L762.77,258.36 L763.15,258.89 L763.53,259.42 L763.91,259.95 L764.29,260.48 L764.67,261.01 L765.04,261.53 L765.42,262.06 L765.80,262.59 L766.18,263.12 L766.55,263.65 L766.93,264.18 L767.31,264.71 L767.68,265.24 L768.06,265.77 L768.44,266.30 L768.81,266.83 L769.19,267.36 L769.56,267.89 L769.94,268.43 L770.31,268.96 L770.69,269.49 L771.06,270.02 L771.43,270.55 L771.81,271.08 L772.18,271.62 L772.56,272.15 L772.93,272.68 L773.30,273.21 L773.68,273.75 L774.05,274.28 L774.42,274.81 L774.79,275.35 L775.17,275.88 L775.54,276.41 L775.91,276.95 L776.28,277.48 L776.65,278.02 L777.02,278.55 L777.40,279.08 L777.77,279.62 L778.14,280.15 L778.51,280.69 L778.88,281.22 L779.25,281.76 L779.62,282.29 L779.99,282.83 L780.36,283.36 L780.73,283.90 L781.10,284.43 L781.47,284.97 L781.84,285.50 L782.21,286.04 L782.58,286.57 L782.95,287.11 L783.32,287.65 L783.69,288.18 L784.05,288.72 L784.42,289.25 L784.79,289.79 L785.16,290.33 L785.53,290.86 L785.90,291.40 L786.27,291.93 L786.63,292.47 L787.00,293.01 L787.37,293.54 L787.74,294.08 L788.11,294.62 L788.48,295.15 L788.84,295.69 L789.21,296.23 L789.58,296.76 L789.95,297.30 L790.32,297.83 L790.68,298.37 L791.05,298.91 L791.42,299.44 L791.79,299.98 L792.15,300.52 L792.52,301.05 L792.89,301.59 L793.26,302.13 L793.62,302.66 L793.99,303.20 L794.36,303.74 L794.73,304.27 L795.09,304.81 L795.46,305.35 L795.83,305.88 L796.20,306.42 L796.56,306.96 L796.93,307.49 L797.30,308.03 L797.67,308.57 L798.03,309.10 L798.40,309.64 L798.77,310.17 L799.14,310.71 L799.51,311.25 L799.87,311.78 L800.24,312.32 L800.61,312.85 L800.98,313.39 L801.35,313.93 L801.71,314.46 L802.08,315.00 L802.45,315.53 L802.82,316.07 L803.19,316.60 L803.55,317.14 L803.92,317.67 L804.29,318.21 L804.66,318.74 L805.03,319.28 L805.40,319.81 L805.77,320.35 L806.14,320.88 L806.51,321.42 L806.87,321.95 L807.24,322.48 L807.61,323.02 L807.98,323.55 L808.35,324.09 L808.72,324.62 L809.09,325.15 L809.46,325.69 L809.83,326.22 L810.20,326.75 L810.57,327.29 L810.94,327.82 L811.31,328.35 L811.68,328.89 L812.06,329.42 L812.43,329.95 L812.80,330.48 L813.17,331.01 L813.54,331.55 L813.91,332.08 L814.29,332.61 L814.66,333.14 L815.03,333.67 L815.40,334.20 L815.77,334.73 L816.15,335.26 L816.52,335.79 L816.89,336.32 L817.27,336.85 L817.64,337.38 L818.01,337.91 L818.39,338.44 L818.76,338.97 L819.14,339.50 L819.51,340.03 L819.89,340.56 L820.26,341.08 L820.64,341.61 L821.01,342.14 L821.39,342.67 L821.76,343.20 L822.14,343.72 L822.52,344.25 L822.89,344.78 L823.27,345.30 L823.65,345.83 L824.03,346.35 L824.40,346.88 L824.78,347.41 L825.16,347.93 L825.54,348.46 L825.92,348.98 L826.30,349.50 L826.67,350.03 L827.05,350.55 L827.43,351.08 L827.81,351.60 L828.19,352.12 L828.58,352.64 L828.96,353.17 L829.34,353.69 L829.72,354.21 L830.10,354.73 L830.48,355.25 L830.87,355.77 L831.25,356.29 L831.63,356.81 L832.02,357.33 L832.40,357.85 L832.78,358.37 L833.17,358.89 L833.55,359.41 L833.94,359.93 L834.32,360.45 L834.71,360.96 L835.09,361.48 L835.48,362.00 L835.87,362.52 L836.26,363.03 L836.64,363.55 L837.03,364.06 L837.42,364.58 L837.81,365.09 L838.08,364.70 L838.35,364.93 L838.62,365.17 L838.89,365.40 L839.16,365.63 L839.43,365.86 L839.70,366.09 L839.97,366.32 L840.24,366.55 L840.51,366.78 L840.78,367.00 L841.05,367.22 L841.33,367.45 L841.60,367.67 L841.87,367.89 L842.15,368.11 L842.42,368.33 L842.70,368.55 L842.97,368.77 L843.25,368.98 L843.53,369.20 L843.81,369.41 L844.08,369.63 L844.36,369.84 L844.64,370.05 L844.92,370.26 L845.20,370.47 L845.48,370.68 L845.76,370.89 L846.04,371.09 L846.32,371.30 L846.60,371.50 L846.89,371.71 L847.17,371.91 L847.45,372.11 L847.73,372.31 L848.02,372.51 L848.30,372.71 L848.59,372.91 L848.87,373.10 L849.16,373.30 L849.45,373.49 L849.73,373.69 L850.02,373.88 L850.31,374.07 L850.60,374.26 L850.88,374.45 L851.17,374.64 L851.46,374.83 L851.75,375.02 L852.04,375.21 L852.33,375.39 L852.62,375.58 L852.91,375.76 L853.21,375.94 L853.50,376.12 L853.79,376.31 L854.08,376.49 L854.38,376.66 L854.67,376.84 L854.97,377.02 L855.26,377.20 L855.56,377.37 L855.85,377.55 L856.15,377.72 L856.44,377.89 L856.74,378.07 L857.04,378.24 L857.33,378.41 L857.63,378.58 L857.93,378.74 L858.23,378.91 L858.53,379.08 L858.83,379.24 L859.13,379.41 L859.43,379.57 L859.73,379.74 L860.03,379.90 L860.33,380.06 L860.63,380.22 L860.93,380.38 L861.24,380.54 L861.54,380.70 L861.84,380.86 L862.15,381.01 L862.45,381.17 L862.75,381.32 L863.06,381.48 L863.36,381.63 L863.67,381.78 L863.98,381.93 L864.28,382.08 L864.59,382.23 L864.89,382.38 L865.20,382.53 L865.51,382.68 L865.82,382.83 L866.13,382.97 L866.43,383.12 L866.74,383.26 L867.05,383.40 L867.36,383.55 L867.67,383.69 L867.98,383.83 L868.29,383.97 L868.60,384.11 L868.91,384.25 L869.23,384.39 L869.54,384.52 L869.85,384.66 L870.16,384.79 L870.47,384.93 L870.79,385.06 L871.10,385.20 L871.42,385.33 L871.73,385.46 L872.04,385.59 L872.36,385.72 L872.67,385.85 L872.99,385.98 L873.30,386.11 L873.62,386.23 L873.94,386.36 L874.25,386.49 L874.57,386.61 L874.89,386.74 L875.20,386.86 L875.52,386.98 L875.84,387.10 L876.16,387.22 L876.48,387.35 L876.80,387.46 L877.12,387.58 L877.44,387.70 L877.76,387.82 L878.08,387.94 L878.40,388.05 L878.72,388.17 L879.04,388.28 L879.36,388.40 L879.68,388.51 L880.00,388.62 L880.32,388.74 L880.65,388.85 L880.97,388.96 L881.29,389.07 L881.61,389.18 L881.94,389.29 L882.26,389.39 L882.59,389.50 L882.91,389.61 L883.23,389.71 L883.56,389.82 L883.88,389.92 L884.21,390.03 L884.53,390.13 L884.86,390.23 L885.19,390.33 L885.51,390.44 L885.84,390.54 L886.16,390.64 L886.49,390.73 L886.82,390.83 L887.15,390.93 L887.47,391.03 L887.80,391.13 L888.13,391.22 L888.46,391.32 L888.79,391.41 L889.11,391.51 L889.44,391.60 L889.77,391.69 L890.10,391.79 L890.43,391.88 L890.76,391.97 L891.09,392.06 L891.42,392.15 L891.75,392.24 L892.08,392.33 L892.41,392.41 L892.74,392.50 L893.08,392.59 L893.41,392.67 L893.74,392.76 L894.07,392.85 L894.40,392.93 L894.74,393.01 L895.07,393.10 L895.40,393.18 L895.73,393.26 L896.07,393.34 L896.40,393.42 L896.73,393.51 L897.07,393.59 L897.40,393.66 L897.74,393.74 L898.07,393.82 L898.40,393.90 L898.74,393.98 L899.07,394.05 L899.41,394.13 L899.74,394.20 L900.08,394.28 L900.41,394.35 L900.75,394.43 L901.09,394.50 L901.42,394.57 L901.76,394.65 L902.09,394.72 L902.43,394.79 L902.77,394.86 L903.10,394.93 L903.44,395.00 L903.78,395.07 L904.12,395.14 L904.45,395.20 L904.79,395.27 L905.13,395.34 L905.47,395.41 L905.80,395.47 L906.14,395.54 L906.48,395.60 L906.82,395.67 L907.16,395.73 L907.50,395.79 L907.84,395.86 L908.17,395.92 L908.51,395.98 L908.85,396.04 L909.19,396.10 L909.53,396.17 L909.87,396.23 L910.21,396.29 L910.55,396.34 L910.89,396.40 L911.23,396.46 L911.57,396.52 L911.91,396.58 L912.25,396.63 L912.59,396.69 L912.93,396.75 L913.27,396.80 L913.61,396.86 L913.96,396.91 L914.30,396.97 L914.64,397.02 L914.98,397.07 L915.32,397.13 L915.66,397.18 L916.00,397.23 L916.34,397.28 L916.69,397.33 L917.03,397.38 L917.37,397.44 L917.71,397.49 L918.05,397.54 L918.40,397.58 L918.74,397.63 L919.08,397.68 L919.42,397.73 L919.77,397.78 L920.11,397.82 L920.45,397.87 L920.79,397.92 L921.14,397.96 L921.48,398.01 L921.82,398.05 L922.17,398.10 L922.51,398.14 L922.85,398.19 L923.20,398.23 L923.54,398.28 L923.88,398.32 L924.23,398.36 L924.57,398.40 L924.91,398.45 L925.26,398.49 L925.60,398.53 L925.94,398.57 L926.29,398.61 L926.63,398.65 L926.97,398.69 L927.32,398.73 L927.66,398.77 L928.01,398.81 L928.35,398.85 L928.69,398.88 L929.04,398.92 L929.38,398.96 L929.73,399.00 L930.07,399.03 L930.41,399.07 L930.76,399.10 L931.10,399.14 L931.45,399.18 L931.79,399.21 L932.13,399.25 L932.48,399.28 L932.82,399.32 L933.17,399.35 L933.51,399.38 L933.86,399.42 L934.20,399.45 L934.54,399.48 L934.89,399.52 L935.23,399.55 L935.58,399.58 L935.92,399.61 L936.27,399.64 L936.61,399.67 L936.96,399.70 L937.30,399.73 L937.64,399.77 L937.99,399.80 L938.33,399.83 L938.68,399.85 L939.02,399.88 L939.37,399.91 L939.71,399.94 L940.05,399.97 L940.40,400.00 L940.74,400.03 L941.09,400.05 L941.43,400.08 L941.77,400.11 L942.12,400.14 L942.46,400.16 L942.81,400.19 L943.15,400.22 L943.49,400.24 L943.84,400.27 L944.18,400.29 L944.53,400.32 L944.87,400.34 L945.21,400.37 L945.56,400.39 L945.90,400.42 L946.24,400.44 L946.59,400.47 L946.93,400.49 L947.27,400.52 L947.62,400.54 L947.96,400.56 L948.30,400.59 L948.65,400.61 L948.99,400.63 L949.33,400.65 L949.68,400.68 L950.02,400.70 L950.36,400.72 L950.70,400.74 L951.05,400.77 L951.39,400.79 L951.73,400.81 L952.08,400.83 L952.42,400.85 L952.76,400.87 L953.10,400.89 L953.44,400.91 L953.79,400.93 L954.13,400.95 L954.47,400.97 L954.81,400.99 L955.15,401.01 L955.50,401.03 L955.84,401.05 L956.18,401.07 L956.52,401.09 L956.86,401.11 L957.20,401.13 L957.54,401.15 L957.88,401.17 L958.23,401.19 L958.57,401.21 L958.91,401.23 L959.25,401.24 L959.59,401.26 L959.93,401.28 L960.27,401.30 L960.61,401.32 L960.95,401.33 L961.29,401.35 L961.63,401.37 L961.97,401.39 L962.31,401.41 L962.65,401.42 L962.98,401.44 L963.32,401.46 L963.66,401.47 L964.00,401.49 L964.34,401.51 L964.68,401.53 L965.02,401.54 L965.35,401.56 L965.69,401.58 L966.03,401.59 L966.37,401.61 L966.71,401.63 L967.04,401.64 L967.38,401.66" fill="none" stroke="#ff7f00" stroke-width="2.5" stroke-linecap="round" stroke-linejoin="round"/>
<path d="M552.40,178.40 L552.46,178.45 L552.53,178.50 L552.59,178.55 L552.65,178.60 L552.71,178.65 L552.78,178.69 L552.84,178.74 L552.90,178.79 L552.97,178.84 L553.03,178.89 L553.09,178.94 L553.16,178.99 L553.22,179.04 L553.28,179.09 L553.35,179.13 L553.41,179.18 L553.47,179.23 L553.54,179.28 L553.60,179.33 L553.66,179.38 L553.73,179.43 L553.79,179.48 L553.85,179.53 L553.91,179.58 L553.98,179.62 L554.04,179.67 L554.10,179.72 L554.17,179.77 L554.23,179.82 L554.29,179.87 L554.36,179.92 L554.42,179.97 L554.48,180.02 L554.55,180.07 L554.61,180.11 L554.68,180.16 L554.74,180.21 L554.80,180.26 L554.87,180.31 L554.93,180.36 L554.99,180.41 L555.06,180.46 L555.12,180.51 L555.18,180.56 L555.25,180.60 L555.31,180.65 L555.37,180.70 L555.44,180.75 L555.50,180.80 L555.57,180.85 L555.63,180.90 L555.69,180.95 L555.76,181.00 L555.82,181.05 L555.88,181.09 L555.95,181.14 L556.01,181.19 L556.08,181.24 L556.14,181.29 L556.20,181.34 L556.27,181.39 L556.33,181.44 L556.39,181.48 L556.46,181.53 L556.52,181.58 L556.59,181.63 L556.65,181.68 L556.71,181.73 L556.78,181.78 L556.84,181.83 L556.91,181.88 L556.97,181.92 L557.03,181.97 L557.10,182.02 L557.16,182.07 L557.23,182.12 L557.29,182.17 L557.36,182.22 L557.42,182.26 L557.48,182.31 L557.55,182.36 L557.61,182.41 L557.68,182.46 L557.74,182.51 L557.80,182.56 L557.87,182.60 L557.93,182.65 L558.00,182.70 L558.06,182.75 L558.13,182.80 L558.19,182.85 L558.26,182.89 L558.32,182.94 L558.38,182.99 L558.45,183.04 L558.51,183.09 L558.58,183.14 L558.64,183.18 L558.71,183.23 L558.77,183.28 L558.84,183.33 L558.90,183.38 L558.97,183.42 L559.03,183.47 L559.10,183.52 L559.16,183.57 L559.23,183.62 L559.29,183.66 L559.36,183.71 L559.42,183.76 L559.49,183.81 L559.55,183.86 L559.62,183.90 L559.68,183.95 L559.75,184.00 L559.81,184.05 L559.88,184.09 L559.94,184.14 L560.01,184.19 L560.07,184.24 L560.14,184.28 L560.20,184.33 L560.27,184.38 L560.33,184.43 L560.40,184.47 L560.46,184.52 L560.53,184.57 L560.59,184.62 L560.66,184.66 L560.72,184.71 L560.79,184.76 L560.85,184.81 L560.92,184.85 L560.99,184.90 L561.05,184.95 L561.12,184.99 L561.18,185.04 L561.25,185.09 L561.31,185.13 L561.38,185.18 L561.45,185.23 L561.51,185.27 L561.58,185.32 L561.64,185.37 L561.71,185.41 L561.77,185.46 L561.84,185.51 L561.91,185.55 L561.97,185.60 L562.04,185.65 L562.10,185.69 L562.17,185.74 L562.24,185.79 L562.30,185.83 L562.37,185.88 L562.43,185.92 L562.50,185.97 L562.57,186.02 L562.63,186.06 L562.70,186.11 L562.77,186.16 L562.83,186.20 L562.90,186.25 L562.96,186.29 L563.03,186.34 L563.10,186.38 L563.16,186.43 L563.23,186.48 L563.30,186.52 L563.36,186.57 L563.43,186.61 L563.50,186.66 L563.56,186.70 L563.63,186.75 L563.70,186.79 L563.76,186.84 L563.83,186.88 L563.90,186.93 L563.96,186.97 L564.03,187.02 L564.10,187.06 L564.17,187.11 L564.23,187.15 L564.30,187.20 L564.37,187.24 L564.43,187.29 L564.50,187.33 L564.57,187.38 L564.63,187.42 L564.70,187.46 L564.77,187.51 L564.84,187.55 L564.90,187.60 L564.97,187.64 L565.04,187.69 L565.11,187.73 L565.17,187.77 L565.24,187.82 L565.31,187.86 L565.38,187.91 L565.44,187.95 L565.51,187.99 L565.58,188.04 L565.65,188.08 L565.71,188.12 L565.78,188.17 L565.85,188.21 L565.92,188.25 L565.99,188.30 L566.05,188.34 L566.12,188.38 L566.19,188.43 L566.26,188.47 L566.33,188.51 L566.39,188.55 L566.46,188.60 L566.53,188.64 L566.60,188.68 L566.67,188.73 L566.74,188.77 L566.80,188.81 L566.87,188.85 L566.94,188.90 L567.01,188.94 L567.08,188.98 L567.15,189.02 L567.22,189.06 L567.28,189.11 L567.35,189.15 L567.42,189.19 L567.49,189.23 L567.56,189.27 L567.63,189.31 L567.70,189.36 L567.77,189.40 L567.83,189.44 L567.90,189.48 L567.97,189.52 L568.04,189.56 L568.11,189.60 L568.18,189.64 L568.25,189.68 L568.32,189.73 L568.39,189.77 L568.46,189.81 L568.53,189.85 L568.60,189.89 L568.66,189.93 L568.73,189.97 L568.80,190.01 L568.87,190.05 L568.94,190.09 L569.01,190.13 L569.08,190.17 L569.15,190.21 L569.22,190.25 L569.29,190.29 L569.36,190.33 L569.43,190.37 L569.50,190.41 L569.57,190.45 L569.64,190.49 L569.71,190.53 L569.78,190.56 L569.85,190.60 L569.92,190.64 L569.99,190.68 L570.06,190.72 L570.13,190.76 L570.20,190.80 L570.27,190.84 L570.34,190.87 L570.41,190.91 L570.49,190.95 L570.56,190.99 L570.63,191.03 L570.70,191.06 L570.77,191.10 L570.84,191.14 L570.91,191.18 L570.98,191.22 L571.05,191.25 L571.12,191.29 L571.19,191.33 L571.26,191.37 L571.34,191.40 L571.41,191.44 L571.48,191.48 L571.55,191.51 L571.62,191.55 L571.69,191.59 L571.76,191.62 L571.83,191.66 L571.91,191.70 L571.98,191.73 L572.05,191.77 L572.12,191.80 L572.19,191.84 L572.26,191.88 L572.34,191.91 L572.41,191.95 L572.48,191.98 L572.55,192.02 L572.62,192.05 L572.70,192.09 L572.77,192.13 L572.84,192.16 L572.91,192.20 L572.98,192.23 L573.06,192.26 L573.13,192.30 L573.20,192.33 L573.27,192.37 L573.35,192.40 L573.42,192.44 L573.49,192.47 L573.56,192.51 L573.64,192.54 L573.71,192.57 L573.78,192.61 L573.85,192.64 L573.93,192.67 L574.00,192.71 L574.07,192.74 L574.15,192.77 L574.22,192.81 L574.29,192.84 L574.37,192.87 L574.44,192.91 L574.51,192.94 L574.59,192.97 L574.66,193.00 L574.73,193.04 L574.81,193.07 L574.88,193.10 L574.95,193.13 L575.03,193.16 L575.10,193.20 L575.17,193.23 L575.25,193.26 L575.32,193.29 L575.39,193.32 L575.47,193.35 L575.54,193.39 L575.62,193.42 L575.69,193.45 L575.77,193.48 L575.84,193.51 L575.91,193.54 L575.99,193.57 L576.06,193.60 L576.14,193.63 L576.21,193.66 L576.29,193.69 L576.36,193.72 L576.44,193.75 L576.51,193.78 L576.58,193.81 L576.66,193.84 L576.73,193.87 L576.81,193.90 L576.88,193.93 L576.96,193.95 L577.03,193.98 L577.11,194.01 L577.18,194.04 L577.26,194.07 L577.34,194.10 L577.41,194.13 L577.49,194.15 L577.56,194.18 L577.64,194.21 L577.71,194.24 L577.79,194.26 L577.86,194.29 L577.94,194.32 L578.02,194.35 L578.09,194.37 L578.17,194.40 L578.24,194.43 L578.32,194.45 L578.40,194.48 L578.47,194.51 L578.55,194.53 L578.62,194.56 L578.70,194.58 L578.78,194.61 L578.85,194.64 L578.93,194.66 L579.01,194.69 L579.08,194.71 L579.16,194.74 L579.24,194.76 L579.31,194.79 L579.39,194.81 L579.47,194.84 L579.54,194.86 L579.62,194.89 L579.70,194.91 L579.29,194.63 L580.11,194.63 L580.93,194.63 L581.75,194.63 L582.57,194.64 L583.38,194.65 L584.20,194.67 L585.01,194.70 L585.82,194.73 L586.64,194.76 L587.45,194.80 L588.25,194.84 L589.06,194.89 L589.86,194.94 L590.67,195.00 L591.47,195.06 L592.27,195.12 L593.07,195.19 L593.87,195.27 L594.67,195.35 L595.46,195.43 L596.26,195.52 L597.05,195.61 L597.84,195.71 L598.63,195.81 L599.42,195.92 L600.20,196.03 L600.99,196.14 L601.77,196.26 L602.55,196.38 L603.33,196.51 L604.11,196.64 L604.89,196.78 L605.67,196.92 L606.44,197.06 L607.22,197.21 L607.99,197.36 L608.76,197.52 L609.53,197.68 L610.30,197.85 L611.06,198.02 L611.83,198.19 L612.59,198.37 L613.35,198.55 L614.11,198.73 L614.87,198.92 L615.63,199.12 L616.39,199.31 L617.14,199.51 L617.90,199.72 L618.65,199.93 L619.40,200.14 L620.15,200.36 L620.90,200.58 L621.64,200.80 L622.39,201.03 L623.13,201.26 L623.87,201.49 L624.61,201.73 L625.35,201.98 L626.09,202.22 L626.83,202.47 L627.56,202.73 L628.29,202.98 L629.02,203.24 L629.76,203.51 L630.48,203.78 L631.21,204.05 L631.94,204.32 L632.66,204.60 L633.38,204.88 L634.11,205.17 L634.83,205.46 L635.55,205.75 L636.26,206.04 L636.98,206.34 L637.69,206.65 L638.41,206.95 L639.12,207.26 L639.83,207.57 L640.54,207.89 L641.24,208.21 L641.95,208.53 L642.65,208.85 L643.35,209.18 L644.06,209.51 L644.76,209.85 L645.45,210.19 L646.15,210.53 L646.85,210.87 L647.54,211.22 L648.23,211.57 L648.92,211.92 L649.61,212.28 L650.30,212.63 L650.99,213.00 L651.67,213.36 L652.36,213.73 L653.04,214.10 L653.72,214.47 L654.40,214.85 L655.08,215.23 L655.75,215.61 L656.43,215.99 L657.10,216.38 L657.77,216.77 L658.44,217.17 L659.11,217.56 L659.78,217.96 L660.45,218.36 L661.11,218.76 L661.77,219.17 L662.44,219.58 L663.10,219.99 L663.75,220.41 L664.41,220.82 L665.07,221.24 L665.72,221.66 L666.37,222.09 L667.03,222.51 L667.68,222.94 L668.32,223.37 L668.97,223.81 L669.62,224.24 L670.26,224.68 L670.90,225.12 L671.54,225.57 L672.18,226.01 L672.82,226.46 L673.46,226.91 L674.09,227.36 L674.73,227.82 L675.36,228.28 L675.99,228.73 L676.62,229.20 L677.25,229.66 L677.87,230.12 L678.50,230.59 L679.12,231.06 L679.74,231.53 L680.36,232.01 L680.98,232.48 L681.60,232.96 L682.22,233.44 L682.83,233.92 L683.44,234.41 L684.06,234.89 L684.67,235.38 L685.27,235.87 L685.88,236.36 L686.49,236.85 L687.09,237.35 L687.69,237.84 L688.29,238.34 L688.89,238.84 L689.49,239.34 L690.09,239.85 L690.69,240.35 L691.28,240.86 L691.87,241.37 L692.46,241.88 L693.05,242.39 L693.64,242.91 L694.23,243.42 L694.81,243.94 L695.40,244.46 L695.98,244.98 L696.56,245.50 L697.14,246.02 L697.72,246.55 L698.30,247.07 L698.88,247.60 L699.45,248.13 L700.03,248.66 L700.60,249.19 L701.17,249.73 L701.74,250.26 L702.31,250.80 L702.88,251.34 L703.45,251.88 L704.02,252.42 L704.58,252.96 L705.14,253.50 L705.71,254.05 L706.27,254.60 L706.83,255.14 L707.39,255.69 L707.95,256.24 L708.50,256.79 L709.06,257.35 L709.62,257.90 L710.17,258.46 L710.72,259.01 L711.28,259.57 L711.83,260.13 L712.38,260.69 L712.93,261.25 L713.48,261.81 L714.02,262.37 L714.57,262.94 L715.11,263.50 L715.66,264.07 L716.20,264.64 L716.75,265.21 L717.29,265.78 L717.83,266.35 L718.37,266.92 L718.91,267.49 L719.45,268.06 L719.99,268.64 L720.52,269.21 L721.06,269.79 L721.59,270.37 L722.13,270.94 L722.66,271.52 L723.20,272.10 L723.73,272.68 L724.26,273.27 L724.79,273.85 L725.32,274.43 L725.85,275.01 L726.38,275.60 L726.91,276.18 L727.44,276.77 L727.96,277.36 L728.49,277.95 L729.02,278.53 L729.54,279.12 L730.07,279.71 L730.59,280.30 L731.11,280.89 L731.64,281.48 L732.16,282.08 L732.68,282.67 L733.20,283.26 L733.72,283.86 L734.24,284.45 L734.76,285.05 L735.28,285.64 L735.80,286.24 L736.32,286.83 L736.84,287.43 L737.36,288.03 L737.87,288.62 L738.39,289.22 L738.91,289.82 L739.42,290.42 L739.94,291.02 L740.45,291.62 L740.97,292.22 L741.48,292.82 L742.00,293.42 L742.51,294.02 L743.02,294.62 L743.54,295.22 L744.05,295.83 L744.56,296.43 L745.08,297.03 L745.59,297.63 L746.10,298.24 L746.61,298.84 L747.12,299.44 L747.64,300.04 L748.15,300.65 L748.66,301.25 L749.17,301.86 L749.68,302.46 L750.19,303.06 L750.70,303.67 L751.21,304.27 L751.72,304.87 L752.23,305.48 L752.74,306.08 L753.25,306.69 L753.76,307.29 L754.27,307.89 L754.78,308.50 L755.29,309.10 L755.80,309.70 L756.31,310.31 L756.82,310.91 L757.33,311.51 L757.84,312.12 L758.35,312.72 L758.86,313.32 L759.37,313.93 L759.88,314.53 L760.39,315.13 L760.90,315.73 L761.41,316.33 L761.93,316.94 L762.44,317.54 L762.95,318.14 L763.46,318.74 L763.97,319.34 L764.48,319.94 L764.99,320.54 L765.51,321.14 L766.02,321.74 L766.53,322.33 L767.04,322.93 L767.56,323.53 L768.07,324.13 L768.58,324.72 L769.10,325.32 L769.61,325.92 L770.12,326.51 L770.64,327.11 L771.15,327.70 L771.67,328.29 L772.19,328.89 L772.70,329.48 L773.22,330.07 L773.74,330.66 L774.25,331.25 L774.77,331.84 L775.29,332.43 L775.81,333.02 L776.33,333.61 L776.85,334.19 L777.37,334.78 L777.89,335.37 L778.41,335.95 L778.93,336.54 L779.45,337.12 L779.97,337.70 L780.50,338.28 L781.02,338.87 L781.55,339.45 L782.07,340.03 L782.60,340.60 L783.12,341.18 L783.65,341.76 L784.18,342.33 L784.71,342.91 L785.23,343.48 L785.76,344.06 L786.29,344.63 L786.82,345.20 L787.36,345.77 L787.89,346.34 L788.42,346.91 L788.95,347.47 L789.49,348.04 L790.02,348.61 L790.56,349.17 L791.10,349.73 L791.63,350.29 L792.17,350.85 L792.71,351.41 L793.25,351.97 L793.79,352.53 L794.33,353.08 L794.88,353.64 L795.42,354.19 L795.96,354.74 L796.51,355.30 L797.05,355.84 L797.60,356.39 L798.15,356.94 L798.70,357.49 L799.25,358.03 L799.80,358.57 L800.35,359.11 L800.90,359.66 L801.46,360.19 L802.01,360.73 L802.57,361.27 L803.12,361.80 L803.68,362.34 L804.24,362.87 L804.80,363.40 L805.36,363.93 L805.92,364.45 L806.49,364.98 L807.05,365.50 L807.62,366.03 L808.18,366.55 L808.75,367.07 L809.32,367.59 L809.89,368.10 L810.46,368.62 L811.03,369.13 L811.61,369.64 L812.18,370.15 L812.76,370.66 L813.34,371.17 L813.92,371.67 L814.50,372.17 L815.08,372.67 L815.66,373.17 L816.24,373.67 L816.83,374.17 L817.42,374.66 L818.00,375.15 L818.59,375.64 L819.18,376.13 L819.77,376.62 L820.37,377.10 L820.96,377.59 L821.54,377.13 L821.88,377.32 L822.21,377.51 L822.55,377.69 L822.89,377.87 L823.23,378.06 L823.56,378.24 L823.90,378.42 L824.24,378.60 L824.58,378.77 L824.92,378.95 L825.26,379.13 L825.60,379.30 L825.94,379.47 L826.28,379.65 L826.62,379.82 L826.96,379.99 L827.30,380.16 L827.64,380.33 L827.98,380.49 L828.33,380.66 L828.67,380.82 L829.01,380.99 L829.35,381.15 L829.69,381.31 L830.04,381.47 L830.38,381.63 L830.72,381.79 L831.07,381.95 L831.41,382.11 L831.76,382.26 L832.10,382.42 L832.45,382.57 L832.79,382.73 L833.14,382.88 L833.48,383.03 L833.83,383.18 L834.17,383.33 L834.52,383.47 L834.87,383.62 L835.21,383.77 L835.56,383.91 L835.91,384.06 L836.26,384.20 L836.60,384.34 L836.95,384.48 L837.30,384.62 L837.65,384.76 L838.00,384.90 L838.35,385.04 L838.69,385.18 L839.04,385.31 L839.39,385.45 L839.74,385.58 L840.09,385.71 L840.44,385.84 L840.79,385.97 L841.14,386.11 L841.50,386.23 L841.85,386.36 L842.20,386.49 L842.55,386.62 L842.90,386.74 L843.25,386.87 L843.61,386.99 L843.96,387.11 L844.31,387.24 L844.66,387.36 L845.02,387.48 L845.37,387.60 L845.72,387.72 L846.08,387.83 L846.43,387.95 L846.79,388.07 L847.14,388.18 L847.49,388.30 L847.85,388.41 L848.20,388.52 L848.56,388.63 L848.91,388.74 L849.27,388.86 L849.63,388.96 L849.98,389.07 L850.34,389.18 L850.69,389.29 L851.05,389.39 L851.41,389.50 L851.76,389.60 L852.12,389.71 L852.48,389.81 L852.84,389.91 L853.19,390.01 L853.55,390.12 L853.91,390.21 L854.27,390.31 L854.63,390.41 L854.99,390.51 L855.34,390.61 L855.70,390.70 L856.06,390.80 L856.42,390.89 L856.78,390.99 L857.14,391.08 L857.50,391.17 L857.86,391.26 L858.22,391.35 L858.58,391.44 L858.94,391.53 L859.30,391.62 L859.66,391.71 L860.03,391.80 L860.39,391.88 L860.75,391.97 L861.11,392.06 L861.47,392.14 L861.83,392.22 L862.20,392.31 L862.56,392.39 L862.92,392.47 L863.28,392.55 L863.65,392.63 L864.01,392.71 L864.37,392.79 L864.73,392.87 L865.10,392.95 L865.46,393.02 L865.83,393.10 L866.19,393.18 L866.55,393.25 L866.92,393.33 L867.28,393.40 L867.65,393.47 L868.01,393.55 L868.38,393.62 L868.74,393.69 L869.11,393.76 L869.47,393.83 L869.84,393.90 L870.20,393.97 L870.57,394.04 L870.93,394.10 L871.30,394.17 L871.66,394.24 L872.03,394.30 L872.40,394.37 L872.76,394.43 L873.13,394.50 L873.50,394.56 L873.86,394.62 L874.23,394.69 L874.60,394.75 L874.96,394.81 L875.33,394.87 L875.70,394.93 L876.07,394.99 L876.43,395.05 L876.80,395.11 L877.17,395.17 L877.54,395.22 L877.91,395.28 L878.28,395.34 L878.64,395.39 L879.01,395.45 L879.38,395.50 L879.75,395.56 L880.12,395.61 L880.49,395.66 L880.86,395.72 L881.23,395.77 L881.60,395.82 L881.96,395.87 L882.33,395.92 L882.70,395.97 L883.07,396.02 L883.44,396.07 L883.81,396.12 L884.18,396.17 L884.55,396.22 L884.92,396.27 L885.29,396.31 L885.67,396.36 L886.04,396.41 L886.41,396.45 L886.78,396.50 L887.15,396.54 L887.52,396.59 L887.89,396.63 L888.26,396.68 L888.63,396.72 L889.00,396.76 L889.38,396.80 L889.75,396.85 L890.12,396.89 L890.49,396.93 L890.86,396.97 L891.23,397.01 L891.61,397.05 L891.98,397.09 L892.35,397.13 L892.72,397.17 L893.09,397.20 L893.47,397.24 L893.84,397.28 L894.21,397.32 L894.58,397.35 L894.96,397.39 L895.33,397.43 L895.70,397.46 L896.07,397.50 L896.45,397.53 L896.82,397.57 L897.19,397.60 L897.57,397.64 L897.94,397.67 L898.31,397.70 L898.69,397.74 L899.06,397.77 L899.43,397.80 L899.81,397.84 L900.18,397.87 L900.55,397.90 L900.93,397.93 L901.30,397.96 L901.68,397.99 L902.05,398.02 L902.42,398.05 L902.80,398.08 L903.17,398.11 L903.55,398.14 L903.92,398.17 L904.29,398.20 L904.67,398.23 L905.04,398.26 L905.42,398.28 L905.79,398.31 L906.17,398.34 L906.54,398.37 L906.91,398.39 L907.29,398.42 L907.66,398.45 L908.04,398.47 L908.41,398.50 L908.79,398.52 L909.16,398.55 L909.54,398.58 L909.91,398.60 L910.29,398.63 L910.66,398.65 L911.04,398.67 L911.41,398.70 L911.79,398.72 L912.16,398.75 L912.54,398.77 L912.91,398.79 L913.29,398.82 L913.66,398.84 L914.04,398.86 L914.41,398.89 L914.79,398.91 L915.16,398.93 L915.54,398.96 L915.91,398.98 L916.29,399.00 L916.66,399.02 L917.04,399.04 L917.41,399.07 L917.79,399.09 L918.16,399.11 L918.54,399.13 L918.91,399.15 L919.29,399.17 L919.66,399.19 L920.04,399.21 L920.41,399.23 L920.79,399.26 L921.17,399.28 L921.54,399.30 L921.92,399.32 L922.29,399.34 L922.67,399.36 L923.04,399.38 L923.42,399.40 L923.79,399.42 L924.17,399.44 L924.54,399.46 L924.92,399.48 L925.29,399.50 L925.67,399.52 L926.04,399.54 L926.42,399.55 L926.79,399.57 L927.17,399.59 L927.55,399.61 L927.92,399.63 L928.30,399.65 L928.67,399.67 L929.05,399.69 L929.42,399.71 L929.80,399.73 L930.17,399.75 L930.55,399.77 L930.92,399.79 L931.30,399.81 L931.67,399.82 L932.05,399.84 L932.42,399.86 L932.80,399.88 L933.17,399.90 L933.55,399.92 L933.92,399.94 L934.30,399.96 L934.67,399.98 L935.04,400.00 L935.42,400.02 L935.79,400.04 L936.17,400.06 L936.54,400.08 L936.92,400.10 L937.29,400.12 L937.67,400.13 L938.04,400.15 L938.42,400.17 L938.79,400.19 L939.16,400.21 L939.54,400.23 L939.91,400.25 L940.29,400.28 L940.66,400.30 L941.03,400.32 L941.41,400.34 L941.78,400.36 L942.16,400.38 L942.53,400.40 L942.90,400.42 L943.28,400.44 L943.65,400.46 L944.03,400.48 L944.40,400.50 L944.77,400.53 L945.15,400.55 L945.52,400.57 L945.89,400.59 L946.27,400.61 L946.64,400.64 L947.01,400.66 L947.38,400.68 L947.76,400.70 L948.13,400.73 L948.50,400.75 L948.88,400.77 L949.25,400.80 L949.62,400.82 L949.99,400.84 L950.37,400.87 L950.74,400.89 L951.11,400.92 L951.48,400.94 L951.86,400.97 L952.23,400.99 L952.60,401.02 L952.97,401.04 L953.34,401.07 L953.72,401.09 L954.09,401.12 L954.46,401.15 L954.83,401.17 L955.20,401.20 L955.57,401.23 L955.94,401.25 L956.31,401.28 L956.69,401.31 L957.06,401.34 L957.43,401.37 L957.80,401.39 L958.17,401.42 L958.54,401.45 L958.91,401.48 L959.28,401.51 L959.65,401.54 L960.02,401.57 L960.39,401.60 L960.76,401.63 L961.13,401.66 L961.50,401.69 L961.87,401.73 L962.24,401.76 L962.61,401.79 L962.98,401.82 L963.35,401.86 L963.72,401.89 L964.08,401.92 L964.45,401.96 L964.82,401.99 L965.19,402.03 L965.56,402.06 L965.93,402.10 L966.30,402.13 L966.66,402.17 L967.03,402.20 L967.40,402.24" fill="none" stroke="#137f7f" stroke-width="2.5" stroke-linecap="round" stroke-linejoin="round"/>
<path d="M552.11,255.61 L553.24,255.70 L554.36,255.80 L555.48,255.91 L556.60,256.03 L557.72,256.16 L558.84,256.31 L559.95,256.47 L561.06,256.64 L562.17,256.81 L563.27,257.00 L564.38,257.21 L565.48,257.42 L566.58,257.64 L567.68,257.87 L568.77,258.11 L569.86,258.36 L570.95,258.62 L572.04,258.89 L573.13,259.17 L574.21,259.46 L575.30,259.75 L576.38,260.06 L577.46,260.37 L578.53,260.70 L579.61,261.03 L580.68,261.36 L581.75,261.71 L582.82,262.06 L583.89,262.42 L584.95,262.79 L586.02,263.16 L587.08,263.54 L588.14,263.93 L589.20,264.33 L590.26,264.73 L591.31,265.13 L592.37,265.54 L593.42,265.96 L594.47,266.38 L595.52,266.81 L596.57,267.25 L597.62,267.68 L598.66,268.13 L599.70,268.58 L600.75,269.03 L601.79,269.48 L602.83,269.94 L603.87,270.41 L604.90,270.88 L605.94,271.35 L606.97,271.82 L608.01,272.30 L609.04,272.78 L610.07,273.26 L611.10,273.75 L612.13,274.23 L613.15,274.72 L614.18,275.22 L615.20,275.71 L616.23,276.21 L617.25,276.70 L618.27,277.20 L619.30,277.70 L620.32,278.20 L621.33,278.71 L622.35,279.21 L623.37,279.72 L624.38,280.23 L625.40,280.74 L626.41,281.25 L627.42,281.76 L628.43,282.28 L629.44,282.80 L630.45,283.32 L631.45,283.84 L632.46,284.37 L633.46,284.90 L634.46,285.43 L635.46,285.96 L636.46,286.50 L637.45,287.03 L638.45,287.57 L639.44,288.12 L640.43,288.66 L641.42,289.21 L642.41,289.76 L643.39,290.32 L644.37,290.87 L645.36,291.43 L646.34,291.99 L647.31,292.56 L648.29,293.13 L649.26,293.70 L650.23,294.28 L651.20,294.86 L652.17,295.44 L653.14,296.02 L654.10,296.61 L655.06,297.20 L656.02,297.80 L656.98,298.40 L657.93,299.00 L658.88,299.61 L659.83,300.21 L660.78,300.82 L661.73,301.44 L662.67,302.05 L663.62,302.67 L664.56,303.30 L665.50,303.92 L666.44,304.55 L667.38,305.18 L668.31,305.81 L669.24,306.45 L670.18,307.08 L671.11,307.72 L672.04,308.36 L672.97,309.01 L673.89,309.65 L674.82,310.30 L675.74,310.95 L676.67,311.60 L677.59,312.26 L678.51,312.91 L679.43,313.57 L680.35,314.23 L681.27,314.89 L682.19,315.55 L683.10,316.21 L684.02,316.88 L684.93,317.54 L685.85,318.21 L686.76,318.88 L687.68,319.55 L688.59,320.22 L689.50,320.89 L690.41,321.56 L691.32,322.23 L692.23,322.91 L693.14,323.58 L694.05,324.26 L694.96,324.93 L695.87,325.61 L696.78,326.29 L697.69,326.97 L698.60,327.64 L699.51,328.32 L700.42,329.00 L701.32,329.68 L702.23,330.36 L703.14,331.04 L704.05,331.72 L704.96,332.40 L705.86,333.08 L706.77,333.76 L707.68,334.44 L708.59,335.12 L709.50,335.80 L710.41,336.48 L711.32,337.16 L712.23,337.84 L713.13,338.52 L714.05,339.20 L714.96,339.88 L715.87,340.56 L716.78,341.23 L717.69,341.91 L718.60,342.58 L719.52,343.26 L720.43,343.93 L721.35,344.60 L722.26,345.27 L723.18,345.94 L724.10,346.61 L725.02,347.28 L725.94,347.94 L726.86,348.60 L727.78,349.27 L728.71,349.93 L729.63,350.58 L730.56,351.24 L731.49,351.89 L732.42,352.54 L733.35,353.19 L734.28,353.84 L735.22,354.49 L736.15,355.13 L737.09,355.77 L738.03,356.41 L738.97,357.04 L739.92,357.67 L740.86,358.30 L741.81,358.93 L742.76,359.55 L743.71,360.17 L744.66,360.79 L745.62,361.40 L746.57,362.01 L747.53,362.62 L748.49,363.22 L749.46,363.82 L750.42,364.42 L751.39,365.01 L752.36,365.60 L753.33,366.19 L754.31,366.77 L755.28,367.34 L756.26,367.92 L757.24,368.48 L758.22,369.05 L759.21,369.61 L760.20,370.16 L761.19,370.72 L762.18,371.26 L763.17,371.80 L764.17,372.34 L765.17,372.87 L766.17,373.40 L767.17,373.92 L768.18,374.44 L769.19,374.95 L770.20,375.46 L771.21,375.96 L772.23,376.46 L773.25,376.95 L774.27,377.43 L775.29,377.91 L776.32,378.38 L777.34,378.85 L778.37,379.31 L779.41,379.77 L780.44,380.22 L781.48,380.66 L782.52,381.10 L783.57,381.53 L784.61,381.95 L785.66,382.37 L786.71,382.78 L787.77,383.19 L788.82,383.59 L789.88,383.98 L790.94,384.36 L792.01,384.74 L793.08,385.11 L794.15,385.48 L795.22,385.83 L796.30,386.18 L797.37,386.53 L798.45,386.86 L799.54,387.20 L800.62,387.52 L801.71,387.84 L802.79,388.15 L803.89,388.45 L804.98,388.75 L806.07,389.05 L807.17,389.33 L808.26,389.62 L809.36,389.89 L810.46,390.16 L811.57,390.43 L812.67,390.69 L813.77,390.94 L814.88,391.19 L815.98,391.43 L817.09,391.67 L818.20,391.91 L819.31,392.14 L820.42,392.36 L821.53,392.58 L822.64,392.79 L823.75,393.00 L824.86,393.21 L825.98,393.41 L827.09,393.61 L828.21,393.80 L829.32,393.99 L830.44,394.17 L831.55,394.35 L832.67,394.53 L833.79,394.70 L834.91,394.86 L836.03,395.03 L837.15,395.19 L838.27,395.34 L839.39,395.49 L840.51,395.64 L841.64,395.78 L842.76,395.92 L843.88,396.06 L845.01,396.19 L846.13,396.32 L847.26,396.45 L848.38,396.57 L849.51,396.69 L850.64,396.81 L851.76,396.92 L852.89,397.03 L854.02,397.14 L855.15,397.24 L856.28,397.34 L857.41,397.44 L858.54,397.53 L859.67,397.63 L860.80,397.72 L861.93,397.80 L863.06,397.89 L864.20,397.97 L865.33,398.05 L866.46,398.13 L867.59,398.20 L868.73,398.27 L869.86,398.34 L870.99,398.41 L872.13,398.48 L873.26,398.54 L874.40,398.60 L875.53,398.66 L876.67,398.72 L877.80,398.78 L878.94,398.83 L880.07,398.88 L881.21,398.93 L882.35,398.98 L883.48,399.03 L884.62,399.08 L885.76,399.12 L886.89,399.17 L888.03,399.21 L889.17,399.25 L890.31,399.29 L891.44,399.33 L892.58,399.37 L893.72,399.40 L894.85,399.44 L895.99,399.47 L897.13,399.51 L898.27,399.54 L899.41,399.57 L900.54,399.60 L901.68,399.63 L902.82,399.66 L903.96,399.69 L905.09,399.72 L906.23,399.75 L907.37,399.78 L908.51,399.81 L909.64,399.84 L910.78,399.87 L911.92,399.90 L913.05,399.92 L914.19,399.95 L915.33,399.98 L916.46,400.01 L917.60,400.04 L918.74,400.07 L919.87,400.10 L921.01,400.13 L922.14,400.16 L923.28,400.19 L924.41,400.22 L925.55,400.25 L926.68,400.28 L927.82,400.32 L928.95,400.35 L930.09,400.39 L931.22,400.42 L932.35,400.46 L933.48,400.50 L934.62,400.54 L935.75,400.58 L936.88,400.62 L938.01,400.66 L939.14,400.70 L940.27,400.75 L941.40,400.80 L942.53,400.84 L943.66,400.89 L944.79,400.95 L945.92,401.00 L947.05,401.05 L948.18,401.11 L949.30,401.17 L950.43,401.23 L951.56,401.29 L952.68,401.36 L953.81,401.42 L954.93,401.49 L956.05,401.56 L957.18,401.64 L958.30,401.71 L959.42,401.79 L960.54,401.87 L961.67,401.95 L962.79,402.04 L963.91,402.13 L965.02,402.22 L966.14,402.31 L967.26,402.41" fill="none" stroke="#7f007f" stroke-width="2.5" stroke-linecap="round" stroke-linejoin="round"/>
<path d="M552.00,372.20 C552.73,372.32 554.55,371.60 556.40,372.90 C558.25,374.20 560.50,377.52 563.10,380.00 C565.70,382.48 568.67,385.58 572.00,387.80 C575.33,390.02 579.03,391.82 583.10,393.30 C587.17,394.78 590.47,395.65 596.40,396.70 C602.33,397.75 609.43,398.87 618.70,399.60 C627.97,400.33 629.78,400.67 652.00,401.10 C674.22,401.53 699.33,401.90 752.00,402.20 C804.67,402.50 932.00,402.78 968.00,402.90" fill="none" stroke="#000000" stroke-width="2.5" stroke-linecap="round" stroke-linejoin="round"/>
<text x="289.6" y="215.6" font-family="Liberation Sans, sans-serif" font-size="12.5" font-weight="normal" stroke="#000" stroke-width="0.35" textLength="108.6" lengthAdjust="spacing">HfO<tspan font-size="8.12" dy="3">2</tspan><tspan dy="-3">=1524 Cycles</tspan></text>
<text x="286.8" y="250.3" font-family="Liberation Sans, sans-serif" font-size="12.5" font-weight="normal" textLength="126" lengthAdjust="spacing">SiO<tspan font-size="10.00" dy="3.8">2</tspan><tspan dy="-3.8">:HfO</tspan><tspan font-size="10.00" dy="3.8">2</tspan><tspan dy="-3.8">=[8:16]*76</tspan></text>
<text x="285.3" y="278.6" font-family="Liberation Sans, sans-serif" font-size="12.5" font-weight="normal" textLength="126" lengthAdjust="spacing">SiO<tspan font-size="10.00" dy="3.8">2</tspan><tspan dy="-3.8">:HfO</tspan><tspan font-size="10.00" dy="3.8">2</tspan><tspan dy="-3.8">=[8:8]*145</tspan></text>
<text x="285.3" y="307.3" font-family="Liberation Sans, sans-serif" font-size="12.5" font-weight="normal" textLength="126" lengthAdjust="spacing">SiO<tspan font-size="10.00" dy="3.8">2</tspan><tspan dy="-3.8">:HfO</tspan><tspan font-size="10.00" dy="3.8">2</tspan><tspan dy="-3.8">=[8:4]*230</tspan></text>
<text x="288.5" y="331.6" font-family="Liberation Sans, sans-serif" font-size="12.5" font-weight="normal" textLength="125" lengthAdjust="spacing">SiO<tspan font-size="10.00" dy="3.8">2</tspan><tspan dy="-3.8">:HfO</tspan><tspan font-size="10.00" dy="3.8">2</tspan><tspan dy="-3.8">=[8:2]*300</tspan></text>
<text x="286.6" y="374.6" font-family="Liberation Sans, sans-serif" font-size="12.5" font-weight="normal" stroke="#000" stroke-width="0.35" textLength="108" lengthAdjust="spacing">SiO<tspan font-size="8.12" dy="3">2</tspan><tspan dy="-3">=3016 Cycles</tspan></text>
<text x="718.5" y="42" font-family="Liberation Sans, sans-serif" font-size="13" font-weight="normal" stroke="#000" stroke-width="0.2" textLength="110" lengthAdjust="spacing" transform="rotate(45 718.5 42)">HfO<tspan font-size="8.12" dy="3">2</tspan><tspan dy="-3">=1524 Cycles</tspan></text>
<text x="677.6" y="104.5" font-family="Liberation Sans, sans-serif" font-size="13.8" font-weight="normal" stroke="#000" stroke-width="0.2" textLength="126" lengthAdjust="spacing" transform="rotate(45 677.6 104.5)">SiO<tspan font-size="11.73" dy="3">2</tspan><tspan dy="-3">:HfO</tspan><tspan font-size="11.73" dy="3">2</tspan><tspan dy="-3">=[8:16]*76</tspan></text>
<text x="666" y="137.2" font-family="Liberation Sans, sans-serif" font-size="13.8" font-weight="normal" stroke="#000" stroke-width="0.2" textLength="126" lengthAdjust="spacing" transform="rotate(45 666 137.2)">SiO<tspan font-size="11.73" dy="3">2</tspan><tspan dy="-3">:HfO</tspan><tspan font-size="11.73" dy="3">2</tspan><tspan dy="-3">=[8:8]*145</tspan></text>
<text x="654.3" y="185.5" font-family="Liberation Sans, sans-serif" font-size="13.8" font-weight="normal" stroke="#000" stroke-width="0.2" textLength="126" lengthAdjust="spacing" transform="rotate(45 654.3 185.5)">SiO<tspan font-size="11.73" dy="3">2</tspan><tspan dy="-3">:HfO</tspan><tspan font-size="11.73" dy="3">2</tspan><tspan dy="-3">=[8:4]*230</tspan></text>
<text x="641.8" y="250.2" font-family="Liberation Sans, sans-serif" font-size="13.8" font-weight="normal" stroke="#000" stroke-width="0.2" textLength="125" lengthAdjust="spacing" transform="rotate(45 641.8 250.2)">SiO<tspan font-size="11.73" dy="3">2</tspan><tspan dy="-3">:HfO</tspan><tspan font-size="11.73" dy="3">2</tspan><tspan dy="-3">=[8:2]*300</tspan></text>
<text x="605.3" y="385.6" font-family="Liberation Sans, sans-serif" font-size="12.5" font-weight="normal" stroke="#000" stroke-width="0.35" textLength="108" lengthAdjust="spacing">SiO<tspan font-size="8.12" dy="3">2</tspan><tspan dy="-3">=3016 Cycles</tspan></text>
</svg></body></html>
